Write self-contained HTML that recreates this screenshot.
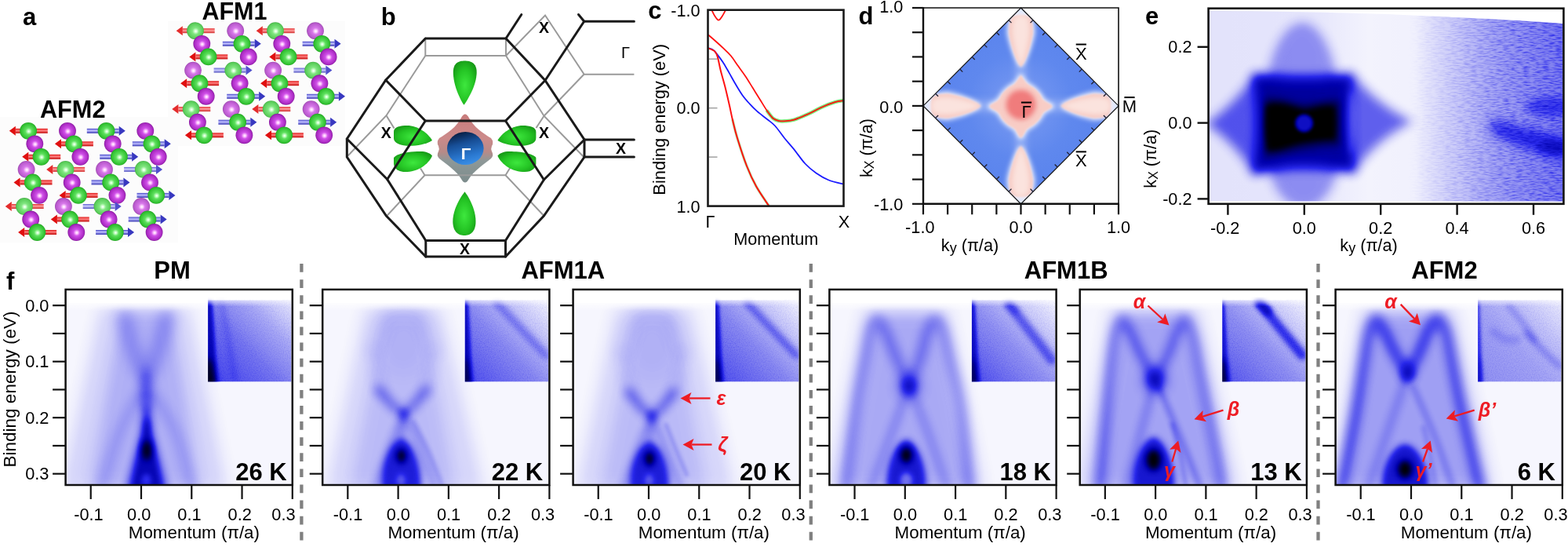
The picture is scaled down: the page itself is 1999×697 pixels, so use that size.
<!DOCTYPE html>
<html><head><meta charset="utf-8"><style>
html,body{margin:0;padding:0;background:#fff;}
body{width:1999px;height:697px;overflow:hidden;}
svg{display:block;font-family:"Liberation Sans", Arial, sans-serif;}
</style></head><body>
<svg width="1999" height="697" viewBox="0 0 1999 697">
<defs>
<radialGradient id="gG" cx="0.5" cy="0.5" r="0.55" fx="0.53" fy="0.53">
<stop offset="0" stop-color="#ffffff"/><stop offset="0.12" stop-color="#c8ffc8"/><stop offset="0.35" stop-color="#5ee05e"/><stop offset="0.8" stop-color="#2fc02f"/><stop offset="1" stop-color="#1c8c1c"/></radialGradient>
<radialGradient id="gGl" cx="0.5" cy="0.5" r="0.55" fx="0.53" fy="0.53">
<stop offset="0" stop-color="#ffffff"/><stop offset="0.12" stop-color="#d8ffd8"/><stop offset="0.35" stop-color="#80e680"/><stop offset="0.8" stop-color="#58cc58"/><stop offset="1" stop-color="#3a9a3a"/></radialGradient>
<radialGradient id="gP" cx="0.5" cy="0.5" r="0.55" fx="0.53" fy="0.53">
<stop offset="0" stop-color="#ffffff"/><stop offset="0.12" stop-color="#ffc8ff"/><stop offset="0.35" stop-color="#d050e8"/><stop offset="0.8" stop-color="#a828c0"/><stop offset="1" stop-color="#6a0c80"/></radialGradient>
<radialGradient id="gPl" cx="0.5" cy="0.5" r="0.55" fx="0.53" fy="0.53">
<stop offset="0" stop-color="#ffffff"/><stop offset="0.12" stop-color="#ffd8ff"/><stop offset="0.35" stop-color="#d878ea"/><stop offset="0.8" stop-color="#b858cc"/><stop offset="1" stop-color="#884098"/></radialGradient>
<linearGradient id="shR" x1="0" y1="0" x2="0" y2="1"><stop offset="0" stop-color="#e01818"/><stop offset="0.45" stop-color="#ff8080"/><stop offset="1" stop-color="#c00000"/></linearGradient>
<linearGradient id="shRl" x1="0" y1="0" x2="0" y2="1"><stop offset="0" stop-color="#e43030"/><stop offset="0.45" stop-color="#ffa0a0"/><stop offset="1" stop-color="#d02828"/></linearGradient>
<linearGradient id="shB" x1="0" y1="0" x2="0" y2="1"><stop offset="0" stop-color="#4848c8"/><stop offset="0.45" stop-color="#c0c0ff"/><stop offset="1" stop-color="#3030b0"/></linearGradient>
<linearGradient id="shBl" x1="0" y1="0" x2="0" y2="1"><stop offset="0" stop-color="#6060d0"/><stop offset="0.45" stop-color="#d0d0ff"/><stop offset="1" stop-color="#5050c0"/></linearGradient>
<radialGradient id="gBlob" cx="0.5" cy="0.55" r="0.65"><stop offset="0" stop-color="#3ee83e"/><stop offset="0.55" stop-color="#24c424"/><stop offset="1" stop-color="#149014"/></radialGradient>
<linearGradient id="pinkStar" x1="0" y1="0" x2="0" y2="1"><stop offset="0" stop-color="#c87c7c"/><stop offset="0.35" stop-color="#cc8a8a"/><stop offset="0.55" stop-color="#b88a88"/><stop offset="0.68" stop-color="#8e9898"/><stop offset="1" stop-color="#7c8c8c"/></linearGradient>
<linearGradient id="blueSph" x1="0.3" y1="0" x2="0.6" y2="1"><stop offset="0" stop-color="#061a3c"/><stop offset="0.35" stop-color="#174e96"/><stop offset="0.75" stop-color="#2a78d0"/><stop offset="1" stop-color="#3b8fe6"/></linearGradient>
<clipPath id="clipC"><rect x="902.5" y="12.7" width="173.0" height="249.90000000000003"/></clipPath>
<clipPath id="clipD"><polygon points="1301.5,10.0 1426.0,134.9 1301.5,259.8 1177.0,134.9"/></clipPath>
<filter id="blD1" x="-20%" y="-20%" width="140%" height="140%"><feGaussianBlur stdDeviation="1.2"/></filter>
<filter id="blD3" x="-50%" y="-50%" width="200%" height="200%"><feGaussianBlur stdDeviation="3"/></filter>
<filter id="blD6" x="-50%" y="-50%" width="200%" height="200%"><feGaussianBlur stdDeviation="6"/></filter>
<filter id="blD10" x="-50%" y="-50%" width="200%" height="200%"><feGaussianBlur stdDeviation="10"/></filter>
<radialGradient id="dBlue" cx="0.5" cy="0.5" r="0.6"><stop offset="0" stop-color="#7c9cf2"/><stop offset="0.45" stop-color="#5f88ee"/><stop offset="1" stop-color="#557fec"/></radialGradient>
<clipPath id="clipE"><path d="M1541.8999999999999,14 C1650,14.5 1740,16.5 1800,19.5 C1880,23 1950,26.5 1992.2,30 L1992.2,256.4 L1541.8999999999999,256.4 Z"/></clipPath>
<filter id="eb" filterUnits="userSpaceOnUse" x="1500" y="0" width="499" height="300"><feGaussianBlur stdDeviation="1"/></filter>
<filter id="eb2" filterUnits="userSpaceOnUse" x="1500" y="0" width="499" height="300"><feGaussianBlur stdDeviation="1.0"/></filter>
<filter id="eb3" filterUnits="userSpaceOnUse" x="1500" y="0" width="499" height="300"><feGaussianBlur stdDeviation="1.5"/></filter>
<filter id="eb4" filterUnits="userSpaceOnUse" x="1500" y="0" width="499" height="300"><feGaussianBlur stdDeviation="2.0"/></filter>
<filter id="eb6" filterUnits="userSpaceOnUse" x="1500" y="0" width="499" height="300"><feGaussianBlur stdDeviation="3.0"/></filter>
<filter id="eb8" filterUnits="userSpaceOnUse" x="1500" y="0" width="499" height="300"><feGaussianBlur stdDeviation="4.0"/></filter>
<filter id="eb10" filterUnits="userSpaceOnUse" x="1500" y="0" width="499" height="300"><feGaussianBlur stdDeviation="5.0"/></filter>
<filter id="eb14" filterUnits="userSpaceOnUse" x="1500" y="0" width="499" height="300"><feGaussianBlur stdDeviation="7.0"/></filter>
<filter id="eb20" filterUnits="userSpaceOnUse" x="1500" y="0" width="499" height="300"><feGaussianBlur stdDeviation="10.0"/></filter>
<filter id="eb30" filterUnits="userSpaceOnUse" x="1500" y="0" width="499" height="300"><feGaussianBlur stdDeviation="15.0"/></filter>
<filter id="noiseE" filterUnits="userSpaceOnUse" x="1540" y="10" width="455" height="250" color-interpolation-filters="sRGB">
<feTurbulence type="fractalNoise" baseFrequency="0.12 0.6" numOctaves="2" seed="5" result="t"/>
<feColorMatrix in="t" type="matrix" values="0 0 0 0 0  0 0 0 0 0  0 0 0 0 0  0 0 0 1.6 -0.62"/>
</filter>
<linearGradient id="eInk" gradientUnits="userSpaceOnUse" x1="1540" y1="0" x2="1994" y2="0"><stop offset="0" stop-color="#000" stop-opacity="0.1"/><stop offset="0.3" stop-color="#000" stop-opacity="0.09"/><stop offset="0.45" stop-color="#000" stop-opacity="0.04"/><stop offset="0.58" stop-color="#000" stop-opacity="0.05"/><stop offset="0.68" stop-color="#000" stop-opacity="0.17"/><stop offset="0.8" stop-color="#000" stop-opacity="0.29"/><stop offset="0.9" stop-color="#000" stop-opacity="0.36"/><stop offset="1" stop-color="#000" stop-opacity="0.42"/></linearGradient>
<linearGradient id="eNoiseMask" gradientUnits="userSpaceOnUse" x1="1540" y1="0" x2="1994" y2="0"><stop offset="0" stop-color="#000"/><stop offset="0.56" stop-color="#000"/><stop offset="0.85" stop-color="#fff"/><stop offset="1" stop-color="#fff"/></linearGradient>
<mask id="eMask" maskUnits="userSpaceOnUse" x="1540" y="10" width="455" height="250"><rect x="1540" y="10" width="455" height="250" fill="url(#eNoiseMask)"/></mask>
<filter id="fb2" filterUnits="userSpaceOnUse" x="0" y="330" width="1999" height="330"><feGaussianBlur stdDeviation="1.0"/></filter>
<filter id="fb3" filterUnits="userSpaceOnUse" x="0" y="330" width="1999" height="330"><feGaussianBlur stdDeviation="1.5"/></filter>
<filter id="fb4" filterUnits="userSpaceOnUse" x="0" y="330" width="1999" height="330"><feGaussianBlur stdDeviation="2.0"/></filter>
<filter id="fb5" filterUnits="userSpaceOnUse" x="0" y="330" width="1999" height="330"><feGaussianBlur stdDeviation="2.5"/></filter>
<filter id="fb6" filterUnits="userSpaceOnUse" x="0" y="330" width="1999" height="330"><feGaussianBlur stdDeviation="3.0"/></filter>
<filter id="fb8" filterUnits="userSpaceOnUse" x="0" y="330" width="1999" height="330"><feGaussianBlur stdDeviation="4.0"/></filter>
<filter id="fb10" filterUnits="userSpaceOnUse" x="0" y="330" width="1999" height="330"><feGaussianBlur stdDeviation="5.0"/></filter>
<filter id="fb12" filterUnits="userSpaceOnUse" x="0" y="330" width="1999" height="330"><feGaussianBlur stdDeviation="6.0"/></filter>
<filter id="fb16" filterUnits="userSpaceOnUse" x="0" y="330" width="1999" height="330"><feGaussianBlur stdDeviation="8.0"/></filter>
<filter id="fb20" filterUnits="userSpaceOnUse" x="0" y="330" width="1999" height="330"><feGaussianBlur stdDeviation="10.0"/></filter>
<filter id="fb24" filterUnits="userSpaceOnUse" x="0" y="330" width="1999" height="330"><feGaussianBlur stdDeviation="12.0"/></filter>
<filter id="cmap" color-interpolation-filters="sRGB">
<feComponentTransfer>
<feFuncR type="table" tableValues="0 0 0.16 0.51 0.78 1"/>
<feFuncG type="table" tableValues="0 0 0.16 0.51 0.78 1"/>
<feFuncB type="table" tableValues="0 0.67 0.92 0.94 0.975 1"/>
</feComponentTransfer></filter>
<filter id="noiseInk" x="0" y="0" width="100%" height="100%" color-interpolation-filters="sRGB">
<feTurbulence type="fractalNoise" baseFrequency="0.8" numOctaves="1" seed="11" result="t"/>
<feColorMatrix in="t" type="matrix" values="0 0 0 0 0  0 0 0 0 0  0 0 0 0 0  0 0 0 1.3 -0.55"/>
</filter>
<linearGradient id="fTopFade" x1="0" y1="0" x2="0" y2="1"><stop offset="0" stop-color="#fff" stop-opacity="1"/><stop offset="1" stop-color="#fff" stop-opacity="0"/></linearGradient>
<clipPath id="dc83"><rect x="83.6" y="368.9" width="289.2" height="249.1"/></clipPath>
<clipPath id="ic83"><rect x="265.1" y="378.5" width="106.5" height="108.1"/></clipPath>
<linearGradient id="ig83" gradientUnits="userSpaceOnUse" x1="265.1" y1="486.6" x2="371.6" y2="382.5"><stop offset="0" stop-color="#000" stop-opacity="0.55"/><stop offset="0.45" stop-color="#000" stop-opacity="0.42"/><stop offset="0.72" stop-color="#000" stop-opacity="0.285"/><stop offset="1" stop-color="#000" stop-opacity="0.075"/></linearGradient>
<clipPath id="dc411"><rect x="411.2" y="368.9" width="289.2" height="249.1"/></clipPath>
<clipPath id="ic411"><rect x="592.7" y="378.5" width="106.5" height="108.1"/></clipPath>
<linearGradient id="ig411" gradientUnits="userSpaceOnUse" x1="592.7" y1="486.6" x2="699.2" y2="382.5"><stop offset="0" stop-color="#000" stop-opacity="0.52"/><stop offset="0.45" stop-color="#000" stop-opacity="0.38"/><stop offset="0.72" stop-color="#000" stop-opacity="0.22"/><stop offset="1" stop-color="#000" stop-opacity="0.03"/></linearGradient>
<clipPath id="dc730"><rect x="730.6" y="368.9" width="289.2" height="249.1"/></clipPath>
<clipPath id="ic730"><rect x="912.1" y="378.5" width="106.5" height="108.1"/></clipPath>
<linearGradient id="ig730" gradientUnits="userSpaceOnUse" x1="912.1" y1="486.6" x2="1018.6" y2="382.5"><stop offset="0" stop-color="#000" stop-opacity="0.52"/><stop offset="0.45" stop-color="#000" stop-opacity="0.38"/><stop offset="0.72" stop-color="#000" stop-opacity="0.22"/><stop offset="1" stop-color="#000" stop-opacity="0.03"/></linearGradient>
<clipPath id="dc1057"><rect x="1057.4" y="368.9" width="289.2" height="249.1"/></clipPath>
<clipPath id="ic1057"><rect x="1238.9" y="378.5" width="106.5" height="108.1"/></clipPath>
<linearGradient id="ig1057" gradientUnits="userSpaceOnUse" x1="1238.9" y1="486.6" x2="1345.4" y2="382.5"><stop offset="0" stop-color="#000" stop-opacity="0.52"/><stop offset="0.45" stop-color="#000" stop-opacity="0.36"/><stop offset="0.72" stop-color="#000" stop-opacity="0.21"/><stop offset="1" stop-color="#000" stop-opacity="0.03"/></linearGradient>
<clipPath id="dc1376"><rect x="1376.7" y="368.9" width="289.2" height="249.1"/></clipPath>
<clipPath id="ic1376"><rect x="1558.2" y="378.5" width="106.5" height="108.1"/></clipPath>
<linearGradient id="ig1376" gradientUnits="userSpaceOnUse" x1="1558.2" y1="486.6" x2="1664.7" y2="382.5"><stop offset="0" stop-color="#000" stop-opacity="0.5"/><stop offset="0.45" stop-color="#000" stop-opacity="0.36"/><stop offset="0.72" stop-color="#000" stop-opacity="0.21"/><stop offset="1" stop-color="#000" stop-opacity="0.03"/></linearGradient>
<clipPath id="dc1702"><rect x="1702.6" y="368.9" width="289.2" height="249.1"/></clipPath>
<clipPath id="ic1702"><rect x="1884.1" y="378.5" width="106.5" height="108.1"/></clipPath>
<linearGradient id="ig1702" gradientUnits="userSpaceOnUse" x1="1884.1" y1="486.6" x2="1990.6" y2="382.5"><stop offset="0" stop-color="#000" stop-opacity="0.36"/><stop offset="0.45" stop-color="#000" stop-opacity="0.3"/><stop offset="0.72" stop-color="#000" stop-opacity="0.21"/><stop offset="1" stop-color="#000" stop-opacity="0.06"/></linearGradient>
</defs>
<rect x="214" y="26.7" width="226" height="159.5" fill="#fcfcfc"/>
<rect x="0" y="149" width="227" height="160" fill="#fcfcfc"/>
<rect x="232.8" y="36.2" width="40.9" height="6" fill="url(#shRl)"/>
<polygon points="224.7,39.2 232.8,33.2 232.8,45.2" fill="#e42c2c"/>
<circle cx="249" cy="39.2" r="10.9" fill="url(#gGl)"/>
<circle cx="257.3" cy="55.8" r="10.9" fill="url(#gP)"/>
<rect x="249.4" y="69.4" width="40.9" height="6" fill="url(#shR)"/>
<polygon points="241.3,72.4 249.4,66.4 249.4,78.4" fill="#e01010"/>
<circle cx="265.6" cy="72.4" r="10.9" fill="url(#gG)"/>
<circle cx="246.1" cy="89.6" r="10.9" fill="url(#gPl)"/>
<rect x="238.2" y="103.2" width="40.9" height="6" fill="url(#shR)"/>
<polygon points="230.1,106.2 238.2,100.2 238.2,112.2" fill="#e01010"/>
<circle cx="254.4" cy="106.2" r="10.9" fill="url(#gG)"/>
<circle cx="262.7" cy="122.8" r="10.9" fill="url(#gP)"/>
<rect x="227.4" y="136.1" width="40.9" height="6" fill="url(#shRl)"/>
<polygon points="219.3,139.1 227.4,133.1 227.4,145.1" fill="#e42c2c"/>
<circle cx="243.6" cy="139.1" r="10.9" fill="url(#gGl)"/>
<circle cx="251.9" cy="155.7" r="10.9" fill="url(#gP)"/>
<rect x="244" y="169.3" width="40.9" height="6" fill="url(#shR)"/>
<polygon points="235.9,172.3 244,166.3 244,178.3" fill="#e01010"/>
<circle cx="260.2" cy="172.3" r="10.9" fill="url(#gG)"/>
<circle cx="300.2" cy="39.2" r="10.9" fill="url(#gPl)"/>
<rect x="283.8" y="52.8" width="40.9" height="6" fill="url(#shB)"/>
<polygon points="332.8,55.8 324.7,49.8 324.7,61.8" fill="#3838c0"/>
<circle cx="308.5" cy="55.8" r="10.9" fill="url(#gG)"/>
<circle cx="316.8" cy="72.4" r="10.9" fill="url(#gP)"/>
<rect x="272.6" y="86.6" width="40.9" height="6" fill="url(#shBl)"/>
<polygon points="321.6,89.6 313.5,83.6 313.5,95.6" fill="#5050cc"/>
<circle cx="297.3" cy="89.6" r="10.9" fill="url(#gGl)"/>
<circle cx="305.6" cy="106.2" r="10.9" fill="url(#gP)"/>
<rect x="289.2" y="119.8" width="40.9" height="6" fill="url(#shB)"/>
<polygon points="338.2,122.8 330.1,116.8 330.1,128.8" fill="#3838c0"/>
<circle cx="313.9" cy="122.8" r="10.9" fill="url(#gG)"/>
<circle cx="294.8" cy="139.1" r="10.9" fill="url(#gPl)"/>
<rect x="278.4" y="152.7" width="40.9" height="6" fill="url(#shB)"/>
<polygon points="327.4,155.7 319.3,149.7 319.3,161.7" fill="#3838c0"/>
<circle cx="303.1" cy="155.7" r="10.9" fill="url(#gG)"/>
<circle cx="311.4" cy="172.3" r="10.9" fill="url(#gP)"/>
<rect x="334.8" y="36.2" width="40.9" height="6" fill="url(#shRl)"/>
<polygon points="326.7,39.2 334.8,33.2 334.8,45.2" fill="#e42c2c"/>
<circle cx="351" cy="39.2" r="10.9" fill="url(#gGl)"/>
<circle cx="359.3" cy="55.8" r="10.9" fill="url(#gP)"/>
<rect x="351.4" y="69.4" width="40.9" height="6" fill="url(#shR)"/>
<polygon points="343.3,72.4 351.4,66.4 351.4,78.4" fill="#e01010"/>
<circle cx="367.6" cy="72.4" r="10.9" fill="url(#gG)"/>
<circle cx="348.1" cy="89.6" r="10.9" fill="url(#gPl)"/>
<rect x="340.2" y="103.2" width="40.9" height="6" fill="url(#shR)"/>
<polygon points="332.1,106.2 340.2,100.2 340.2,112.2" fill="#e01010"/>
<circle cx="356.4" cy="106.2" r="10.9" fill="url(#gG)"/>
<circle cx="364.7" cy="122.8" r="10.9" fill="url(#gP)"/>
<rect x="329.4" y="136.1" width="40.9" height="6" fill="url(#shRl)"/>
<polygon points="321.3,139.1 329.4,133.1 329.4,145.1" fill="#e42c2c"/>
<circle cx="345.6" cy="139.1" r="10.9" fill="url(#gGl)"/>
<circle cx="353.9" cy="155.7" r="10.9" fill="url(#gP)"/>
<rect x="346" y="169.3" width="40.9" height="6" fill="url(#shR)"/>
<polygon points="337.9,172.3 346,166.3 346,178.3" fill="#e01010"/>
<circle cx="362.2" cy="172.3" r="10.9" fill="url(#gG)"/>
<circle cx="402" cy="39.2" r="10.9" fill="url(#gPl)"/>
<rect x="385.6" y="52.8" width="40.9" height="6" fill="url(#shB)"/>
<polygon points="434.6,55.8 426.5,49.8 426.5,61.8" fill="#3838c0"/>
<circle cx="410.3" cy="55.8" r="10.9" fill="url(#gG)"/>
<circle cx="418.6" cy="72.4" r="10.9" fill="url(#gP)"/>
<rect x="374.4" y="86.6" width="40.9" height="6" fill="url(#shBl)"/>
<polygon points="423.4,89.6 415.3,83.6 415.3,95.6" fill="#5050cc"/>
<circle cx="399.1" cy="89.6" r="10.9" fill="url(#gGl)"/>
<circle cx="407.4" cy="106.2" r="10.9" fill="url(#gP)"/>
<rect x="391" y="119.8" width="40.9" height="6" fill="url(#shB)"/>
<polygon points="440,122.8 431.9,116.8 431.9,128.8" fill="#3838c0"/>
<circle cx="415.7" cy="122.8" r="10.9" fill="url(#gG)"/>
<circle cx="396.6" cy="139.1" r="10.9" fill="url(#gPl)"/>
<rect x="380.2" y="152.7" width="40.9" height="6" fill="url(#shB)"/>
<polygon points="429.2,155.7 421.1,149.7 421.1,161.7" fill="#3838c0"/>
<circle cx="404.9" cy="155.7" r="10.9" fill="url(#gG)"/>
<circle cx="413.2" cy="172.3" r="10.9" fill="url(#gP)"/>
<rect x="19.9" y="163.8" width="40.9" height="6" fill="url(#shR)"/>
<polygon points="11.8,166.8 19.9,160.8 19.9,172.8" fill="#e01010"/>
<circle cx="36.1" cy="166.8" r="10.9" fill="url(#gG)"/>
<circle cx="44.3" cy="183.3" r="10.9" fill="url(#gP)"/>
<rect x="36.3" y="196.8" width="40.9" height="6" fill="url(#shR)"/>
<polygon points="28.2,199.8 36.3,193.8 36.3,205.8" fill="#e01010"/>
<circle cx="52.5" cy="199.8" r="10.9" fill="url(#gG)"/>
<circle cx="33.6" cy="215.9" r="10.9" fill="url(#gPl)"/>
<rect x="25.6" y="229.4" width="40.9" height="6" fill="url(#shR)"/>
<polygon points="17.5,232.4 25.6,226.4 25.6,238.4" fill="#e01010"/>
<circle cx="41.8" cy="232.4" r="10.9" fill="url(#gG)"/>
<circle cx="50" cy="248.9" r="10.9" fill="url(#gP)"/>
<rect x="14.8" y="260" width="40.9" height="6" fill="url(#shRl)"/>
<polygon points="6.7,263 14.8,257 14.8,269" fill="#e42c2c"/>
<circle cx="31" cy="263" r="10.9" fill="url(#gGl)"/>
<circle cx="39.2" cy="279.5" r="10.9" fill="url(#gP)"/>
<rect x="31.2" y="293" width="40.9" height="6" fill="url(#shR)"/>
<polygon points="23.1,296 31.2,290 31.2,302" fill="#e01010"/>
<circle cx="47.4" cy="296" r="10.9" fill="url(#gG)"/>
<circle cx="86" cy="166.8" r="10.9" fill="url(#gP)"/>
<rect x="78" y="180.3" width="40.9" height="6" fill="url(#shR)"/>
<polygon points="69.9,183.3 78,177.3 78,189.3" fill="#e01010"/>
<circle cx="94.2" cy="183.3" r="10.9" fill="url(#gG)"/>
<circle cx="102.4" cy="199.8" r="10.9" fill="url(#gP)"/>
<rect x="67.3" y="212.9" width="40.9" height="6" fill="url(#shRl)"/>
<polygon points="59.2,215.9 67.3,209.9 67.3,221.9" fill="#e42c2c"/>
<circle cx="83.5" cy="215.9" r="10.9" fill="url(#gGl)"/>
<circle cx="91.7" cy="232.4" r="10.9" fill="url(#gP)"/>
<rect x="83.7" y="245.9" width="40.9" height="6" fill="url(#shR)"/>
<polygon points="75.6,248.9 83.7,242.9 83.7,254.9" fill="#e01010"/>
<circle cx="99.9" cy="248.9" r="10.9" fill="url(#gG)"/>
<circle cx="80.9" cy="263" r="10.9" fill="url(#gPl)"/>
<rect x="72.9" y="276.5" width="40.9" height="6" fill="url(#shR)"/>
<polygon points="64.8,279.5 72.9,273.5 72.9,285.5" fill="#e01010"/>
<circle cx="89.1" cy="279.5" r="10.9" fill="url(#gG)"/>
<circle cx="97.3" cy="296" r="10.9" fill="url(#gP)"/>
<rect x="110.8" y="163.8" width="40.9" height="6" fill="url(#shB)"/>
<polygon points="159.8,166.8 151.7,160.8 151.7,172.8" fill="#3838c0"/>
<circle cx="135.5" cy="166.8" r="10.9" fill="url(#gG)"/>
<circle cx="143.7" cy="183.3" r="10.9" fill="url(#gP)"/>
<rect x="127.2" y="196.8" width="40.9" height="6" fill="url(#shB)"/>
<polygon points="176.2,199.8 168.1,193.8 168.1,205.8" fill="#3838c0"/>
<circle cx="151.9" cy="199.8" r="10.9" fill="url(#gG)"/>
<circle cx="133" cy="215.9" r="10.9" fill="url(#gPl)"/>
<rect x="116.5" y="229.4" width="40.9" height="6" fill="url(#shB)"/>
<polygon points="165.5,232.4 157.4,226.4 157.4,238.4" fill="#3838c0"/>
<circle cx="141.2" cy="232.4" r="10.9" fill="url(#gG)"/>
<circle cx="149.4" cy="248.9" r="10.9" fill="url(#gP)"/>
<rect x="105.7" y="260" width="40.9" height="6" fill="url(#shBl)"/>
<polygon points="154.7,263 146.6,257 146.6,269" fill="#5050cc"/>
<circle cx="130.4" cy="263" r="10.9" fill="url(#gGl)"/>
<circle cx="138.6" cy="279.5" r="10.9" fill="url(#gP)"/>
<rect x="122.1" y="293" width="40.9" height="6" fill="url(#shB)"/>
<polygon points="171.1,296 163,290 163,302" fill="#3838c0"/>
<circle cx="146.8" cy="296" r="10.9" fill="url(#gG)"/>
<circle cx="185.3" cy="166.8" r="10.9" fill="url(#gP)"/>
<rect x="168.8" y="180.3" width="40.9" height="6" fill="url(#shB)"/>
<polygon points="217.8,183.3 209.7,177.3 209.7,189.3" fill="#3838c0"/>
<circle cx="193.5" cy="183.3" r="10.9" fill="url(#gG)"/>
<circle cx="201.7" cy="199.8" r="10.9" fill="url(#gP)"/>
<rect x="158.1" y="212.9" width="40.9" height="6" fill="url(#shBl)"/>
<polygon points="207.1,215.9 199,209.9 199,221.9" fill="#5050cc"/>
<circle cx="182.8" cy="215.9" r="10.9" fill="url(#gGl)"/>
<circle cx="191" cy="232.4" r="10.9" fill="url(#gP)"/>
<rect x="174.5" y="245.9" width="40.9" height="6" fill="url(#shB)"/>
<polygon points="223.5,248.9 215.4,242.9 215.4,254.9" fill="#3838c0"/>
<circle cx="199.2" cy="248.9" r="10.9" fill="url(#gG)"/>
<circle cx="180.2" cy="263" r="10.9" fill="url(#gPl)"/>
<rect x="163.7" y="276.5" width="40.9" height="6" fill="url(#shB)"/>
<polygon points="212.7,279.5 204.6,273.5 204.6,285.5" fill="#3838c0"/>
<circle cx="188.4" cy="279.5" r="10.9" fill="url(#gG)"/>
<circle cx="196.6" cy="296" r="10.9" fill="url(#gP)"/>
<text x="37.5" y="31.6" font-size="31" font-weight="bold" text-anchor="middle" fill="#000" >a</text>
<text x="298.9" y="24.8" font-size="30.5" font-weight="bold" text-anchor="middle" fill="#000" >AFM1</text>
<text x="92.7" y="150.1" font-size="30.7" font-weight="bold" text-anchor="middle" fill="#000" >AFM2</text>
<path d="M588,150 Q592.9,141 597.8,150 C604,162 616,170 626,176 Q630,181 627,186 Q625.5,189.5 627,193 Q630,198 626,202 C616,210 604,218 597.8,228 Q592.9,237 588,228 C582,218 570,210 560,202 Q556,198 559,193 Q560.5,189.5 559,186 Q556,181 560,176 C570,170 582,162 588,150 Z" fill="url(#pinkStar)"/>
<polyline points="542.3,49 542.3,71 645,71 645,49" stroke="#9a9a9a" stroke-width="2.0" fill="none" stroke-linejoin="miter" />
<polyline points="542.3,71 492.5,147.2 443.5,198.5" stroke="#9a9a9a" stroke-width="2.0" fill="none" stroke-linejoin="miter" />
<polyline points="492.5,147.2 502.5,163.5" stroke="#9a9a9a" stroke-width="2.0" fill="none" stroke-linejoin="miter" />
<polyline points="645,71 693.5,147.7 744.7,200.5" stroke="#9a9a9a" stroke-width="2.0" fill="none" stroke-linejoin="miter" />
<polyline points="744.7,94.5 693.5,147.7" stroke="#9a9a9a" stroke-width="2.0" fill="none" stroke-linejoin="miter" />
<polyline points="693.5,147.7 683.5,163" stroke="#9a9a9a" stroke-width="2.0" fill="none" stroke-linejoin="miter" />
<polyline points="645,71 695,19.5 744.7,94.8 808.4,94.8" stroke="#9a9a9a" stroke-width="2.0" fill="none" stroke-linejoin="miter" />
<polyline points="493.7,274.5 541.5,223.2 644.5,223.2 693.4,275" stroke="#9a9a9a" stroke-width="2.0" fill="none" stroke-linejoin="miter" />
<polyline points="541.5,223.2 536,214.5" stroke="#9a9a9a" stroke-width="2.0" fill="none" stroke-linejoin="miter" />
<polyline points="644.5,223.2 650.5,213.5" stroke="#9a9a9a" stroke-width="2.0" fill="none" stroke-linejoin="miter" />
<path d="M502,168 C502,162 510,160 519,160 C533,160 546,170 551,179 C543,184 532,185.8 522,185.8 C512,185.8 502,183 502,176 Z" fill="url(#gBlob)"/>
<path d="M502,201 C505,196 520,193 536,193 C543,193 548,195 551,198.4 C546,210 532,219 516.5,219 C507,219 502,214 502,208 Z" fill="url(#gBlob)"/>
<path d="M683.4,168 C683.4,162 675.4,160 666.4,160 C652.4,160 639.4,170 634.4,179 C642.4,184 653.4,185.8 663.4,185.8 C673.4,185.8 683.4,183 683.4,176 Z" fill="url(#gBlob)"/>
<path d="M683.4,201 C680.4,196 665.4,193 649.4,193 C642.4,193 637.4,195 634.4,198.4 C639.4,210 653.4,219 668.9,219 C678.4,219 683.4,214 683.4,208 Z" fill="url(#gBlob)"/>
<path d="M577.8,92 C577.8,80 585,77.5 592.5,77.5 C600,77.5 607.7,80 607.7,92 C607.7,108 597,126 591.5,133.8 C586,126 577.8,108 577.8,92 Z" fill="url(#gBlob)"/>
<path d="M577.3,282 C577.3,296 585,300 592,300 C599,300 606.5,296 606.5,282 C606.5,266 597,250 592.5,244.2 C588,250 577.3,266 577.3,282 Z" fill="url(#gBlob)"/>
<ellipse cx="593.3" cy="189" rx="23.3" ry="21" fill="url(#blueSph)"/>
<g stroke-linecap="round" stroke-linejoin="round">
<polyline points="542.3,49 645,49 695,102.5 745,178 745,200 693.4,275 644.5,327 542.8,327 492.4,275 442.3,200 442.3,177 491.8,102 542.3,49" stroke="#1a1a1a" stroke-width="3.0" fill="none" stroke-linejoin="miter" />
<polyline points="491.8,102 542.3,154 644.5,154 695,102.5" stroke="#1a1a1a" stroke-width="3.0" fill="none" stroke-linejoin="miter" />
<polyline points="442.3,177 493.7,228.5 542.3,154" stroke="#1a1a1a" stroke-width="3.0" fill="none" stroke-linejoin="miter" />
<polyline points="745,178 693.4,229 644.5,154" stroke="#1a1a1a" stroke-width="3.0" fill="none" stroke-linejoin="miter" />
<polyline points="493.7,228.5 542.8,306.5 644.5,306.5 693.4,229" stroke="#1a1a1a" stroke-width="3.0" fill="none" stroke-linejoin="miter" />
<polyline points="542.8,306.5 542.8,327" stroke="#1a1a1a" stroke-width="3.0" fill="none" stroke-linejoin="miter" />
<polyline points="644.5,306.5 644.5,327" stroke="#1a1a1a" stroke-width="3.0" fill="none" stroke-linejoin="miter" />
<polyline points="645,49 664.8,18.5" stroke="#1a1a1a" stroke-width="3.0" fill="none" stroke-linejoin="miter" />
<polyline points="695,102.5 744.7,27.2 808.4,27.2" stroke="#1a1a1a" stroke-width="3.0" fill="none" stroke-linejoin="miter" />
<polyline points="744.7,27.2 737.5,18.5" stroke="#1a1a1a" stroke-width="3.0" fill="none" stroke-linejoin="miter" />
<polyline points="745,178 808.4,178" stroke="#1a1a1a" stroke-width="3.0" fill="none" stroke-linejoin="miter" />
<polyline points="745,200 808.4,200" stroke="#1a1a1a" stroke-width="3.0" fill="none" stroke-linejoin="miter" />
</g>
<text x="594" y="203" font-size="21" font-weight="bold" text-anchor="middle" fill="#fff" >Γ</text>
<text x="495.2" y="31.7" font-size="31" font-weight="bold" text-anchor="middle" fill="#000" >b</text>
<text x="693.5" y="41.5" font-size="19.5" font-weight="bold" text-anchor="middle" fill="#000" >X</text>
<text x="492.2" y="175.8" font-size="19.5" font-weight="bold" text-anchor="middle" fill="#000" >X</text>
<text x="693.5" y="175.5" font-size="19.5" font-weight="bold" text-anchor="middle" fill="#000" >X</text>
<text x="592.5" y="323.5" font-size="19.5" font-weight="bold" text-anchor="middle" fill="#000" >X</text>
<text x="791.4" y="196" font-size="19.5" font-weight="bold" text-anchor="middle" fill="#000" >X</text>
<text x="797.5" y="73.8" font-size="20" font-weight="normal" text-anchor="middle" fill="#000" >Γ</text>
<line x1="903.5" y1="75.18" x2="914.5" y2="75.18" stroke="#a0a0a0" stroke-width="1.5" />
<line x1="903.5" y1="137.65" x2="914.5" y2="137.65" stroke="#a0a0a0" stroke-width="1.5" />
<line x1="903.5" y1="200.12" x2="914.5" y2="200.12" stroke="#a0a0a0" stroke-width="1.5" />
<g clip-path="url(#clipC)" fill="none" stroke-linecap="round">
<path d="M978.4,141.9 C979.63,143.42 983.32,148.97 985.8,151 C988.28,153.03 990.88,153.55 993.3,154.1 C995.72,154.65 997.13,154.55 1000.3,154.3 C1003.47,154.05 1007.28,154.12 1012.3,152.6 C1017.32,151.08 1024.37,147.93 1030.4,145.2 C1036.43,142.47 1042.82,138.72 1048.5,136.2 C1054.18,133.68 1059.92,131.47 1064.5,130.1 C1069.08,128.73 1074.08,128.35 1076,128" stroke="#6ee86e" stroke-width="4.5" opacity="0.9"/>
<path d="M934,153 C935,156.83 937,166.25 940,176 C943,185.75 947.98,201.25 952,211.5 C956.02,221.75 959.27,228.83 964.1,237.5 C968.93,246.17 978.18,259.17 981,263.5" stroke="#6ee86e" stroke-width="3.2" opacity="0.6"/>
<path d="M903,61.2 C904.05,61.6 907.32,62.12 909.3,63.6 C911.28,65.08 912.72,67.3 914.9,70.1 C917.08,72.9 919.9,76.52 922.4,80.4 C924.9,84.28 927.42,89.05 929.9,93.4 C932.38,97.75 934.52,101.83 937.3,106.5 C940.08,111.17 943.48,117.05 946.6,121.4 C949.72,125.75 952.88,129.18 956,132.6 C959.12,136.02 961.57,138.63 965.3,141.9 C969.03,145.17 974.58,149.1 978.4,152.2 C982.22,155.3 984.55,156.48 988.2,160.5 C991.85,164.52 996.28,171.32 1000.3,176.3 C1004.32,181.28 1007.95,185.03 1012.3,190.4 C1016.65,195.77 1021.72,203.48 1026.4,208.5 C1031.08,213.52 1035.38,217 1040.4,220.5 C1045.42,224 1050.57,227.12 1056.5,229.5 C1062.43,231.88 1072.75,233.92 1076,234.8" stroke="#1a1aff" stroke-width="1.8"/>
<path d="M903,44.5 C904.37,45.67 907.97,48.63 911.2,51.5 C914.43,54.37 918.98,58.45 922.4,61.7 C925.82,64.95 928.6,67.27 931.7,71 C934.8,74.73 937.88,79.73 941,84.1 C944.12,88.47 947.28,92.53 950.4,97.2 C953.52,101.87 956.6,107.13 959.7,112.1 C962.8,117.07 965.88,122.03 969,127 C972.12,131.97 975.6,137.9 978.4,141.9 C981.2,145.9 983.32,148.97 985.8,151 C988.28,153.03 990.88,153.55 993.3,154.1 C995.72,154.65 997.13,154.55 1000.3,154.3 C1003.47,154.05 1007.28,154.12 1012.3,152.6 C1017.32,151.08 1024.37,147.93 1030.4,145.2 C1036.43,142.47 1042.82,138.72 1048.5,136.2 C1054.18,133.68 1059.92,131.47 1064.5,130.1 C1069.08,128.73 1074.08,128.35 1076,128" stroke="#ff1010" stroke-width="1.8"/>
<path d="M903,61.5 C904.37,62.15 909.22,63.5 911.2,65.4 C913.18,67.3 913.65,68.85 914.9,72.9 C916.15,76.95 917.13,83.48 918.7,89.7 C920.27,95.92 922.43,102.82 924.3,110.2 C926.17,117.58 928.28,126.87 929.9,134 C931.52,141.13 932.32,146 934,153 C935.68,160 937,166.25 940,176 C943,185.75 947.98,201.25 952,211.5 C956.02,221.75 959.27,228.83 964.1,237.5 C968.93,246.17 978.18,259.17 981,263.5" stroke="#ff1010" stroke-width="2"/>
<path d="M907,12 C907.67,13.33 909.5,17.72 911,20 C912.5,22.28 914.42,25.53 916,25.7 C917.58,25.87 919,23.12 920.5,21 C922,18.88 924.25,14.33 925,13" stroke="#ff1010" stroke-width="1.8"/>
</g>
<rect x="902.5" y="12.7" width="173" height="249.9" fill="none" stroke="#1a1a1a" stroke-width="2.6"/>
<text x="834.8" y="24.4" font-size="31" font-weight="bold" text-anchor="middle" fill="#000" >c</text>
<text x="892.6" y="21.1" font-size="21.7" font-weight="normal" text-anchor="end" fill="#000" >-1.0</text>
<text x="892.6" y="144.7" font-size="21.7" font-weight="normal" text-anchor="end" fill="#000" >0.0</text>
<text x="892.6" y="270.5" font-size="21.7" font-weight="normal" text-anchor="end" fill="#000" >1.0</text>
<text x="0" y="0" font-size="21.8" text-anchor="middle" transform="translate(848,152.3) rotate(-90)">Binding energy (eV)</text>
<text x="905.6" y="289.7" font-size="21.7" font-weight="normal" text-anchor="middle" fill="#000" >Γ</text>
<text x="1076.1" y="289.7" font-size="21.7" font-weight="normal" text-anchor="middle" fill="#000" >X</text>
<text x="989.2" y="312.1" font-size="21.6" font-weight="normal" text-anchor="middle" fill="#000" >Momentum</text>
<g clip-path="url(#clipD)">
<rect x="1177.0" y="10.0" width="249.0" height="249.8" fill="url(#dBlue)"/>
<g filter="url(#blD6)" opacity="0.55"><rect x="1296.5" y="10.0" width="10" height="249.8" fill="#c8d8ff"/><rect x="1177.0" y="129.9" width="249.0" height="10" fill="#c8d8ff"/></g>
<circle cx="1301.5" cy="16.0" r="13" fill="#dfe8ff" filter="url(#blD3)"/>
<circle cx="1301.5" cy="253.8" r="13" fill="#dfe8ff" filter="url(#blD3)"/>
<circle cx="1183.0" cy="134.9" r="13" fill="#dfe8ff" filter="url(#blD3)"/>
<circle cx="1420.0" cy="134.9" r="13" fill="#dfe8ff" filter="url(#blD3)"/>
<path d="M1301.5,19.5 C1315.5,19.5 1319,21.5 1319.35,42.6 C1314.62,65.7 1306.75,80.22 1301.5,85.5 C1296.25,80.22 1288.38,65.7 1283.65,42.6 C1284,21.5 1287.5,19.5 1301.5,19.5 Z" fill="#eef2ff" filter="url(#blD3)"/>
<path d="M1301.5,250.5 C1287.5,250.5 1284,248.5 1283.65,227.93 C1288.38,205.35 1296.25,191.16 1301.5,186 C1306.75,191.16 1314.62,205.35 1319.35,227.93 C1319,248.5 1315.5,250.5 1301.5,250.5 Z" fill="#eef2ff" filter="url(#blD3)"/>
<path d="M1187,134.9 C1187,120.74 1189,117.2 1209.3,116.85 C1231.59,121.62 1245.6,129.59 1250.7,134.9 C1245.6,140.21 1231.59,148.18 1209.3,152.95 C1189,152.6 1187,149.06 1187,134.9 Z" fill="#eef2ff" filter="url(#blD3)"/>
<path d="M1416,134.9 C1416,149.06 1414,152.6 1393.7,152.95 C1371.41,148.18 1357.4,140.21 1352.3,134.9 C1357.4,129.59 1371.41,121.62 1393.7,116.85 C1414,117.2 1416,120.74 1416,134.9 Z" fill="#eef2ff" filter="url(#blD3)"/>
<path d="M1301.5,19.5 C1313.5,19.5 1316.5,21.5 1316.8,42.6 C1312.75,65.7 1306,80.22 1301.5,85.5 C1297,80.22 1290.25,65.7 1286.2,42.6 C1286.5,21.5 1289.5,19.5 1301.5,19.5 Z" fill="#f6c9c2" filter="url(#blD1)"/>
<path d="M1301.5,19.5 C1310.14,19.5 1312.3,21.5 1312.52,42.6 C1309.6,65.7 1304.74,80.22 1301.5,85.5 C1298.26,80.22 1293.4,65.7 1290.48,42.6 C1290.7,21.5 1292.86,19.5 1301.5,19.5 Z" fill="#fbe3de" filter="url(#blD3)"/>
<path d="M1301.5,250.5 C1289.5,250.5 1286.5,248.5 1286.2,227.93 C1290.25,205.35 1297,191.16 1301.5,186 C1306,191.16 1312.75,205.35 1316.8,227.93 C1316.5,248.5 1313.5,250.5 1301.5,250.5 Z" fill="#f6c9c2" filter="url(#blD1)"/>
<path d="M1301.5,250.5 C1292.86,250.5 1290.7,248.5 1290.48,227.93 C1293.4,205.35 1298.26,191.16 1301.5,186 C1304.74,191.16 1309.6,205.35 1312.52,227.93 C1312.3,248.5 1310.14,250.5 1301.5,250.5 Z" fill="#fbe3de" filter="url(#blD3)"/>
<path d="M1187,134.9 C1187,122.74 1189,119.7 1209.3,119.4 C1231.59,123.5 1245.6,130.34 1250.7,134.9 C1245.6,139.46 1231.59,146.3 1209.3,150.4 C1189,150.1 1187,147.06 1187,134.9 Z" fill="#f6c9c2" filter="url(#blD1)"/>
<path d="M1187,134.9 C1187,126.14 1189,123.96 1209.3,123.74 C1231.59,126.69 1245.6,131.62 1250.7,134.9 C1245.6,138.18 1231.59,143.11 1209.3,146.06 C1189,145.84 1187,143.66 1187,134.9 Z" fill="#fbe3de" filter="url(#blD3)"/>
<path d="M1416,134.9 C1416,147.06 1414,150.1 1393.7,150.4 C1371.41,146.3 1357.4,139.46 1352.3,134.9 C1357.4,130.34 1371.41,123.5 1393.7,119.4 C1414,119.7 1416,122.74 1416,134.9 Z" fill="#f6c9c2" filter="url(#blD1)"/>
<path d="M1416,134.9 C1416,143.66 1414,145.84 1393.7,146.06 C1371.41,143.11 1357.4,138.18 1352.3,134.9 C1357.4,131.62 1371.41,126.69 1393.7,123.74 C1414,123.96 1416,126.14 1416,134.9 Z" fill="#fbe3de" filter="url(#blD3)"/>
<path d="M1301.5,92.9 C1302.92,94.85 1307.17,101.75 1310,104.59 C1312.83,107.42 1315.67,107.6 1318.5,109.9 C1321.33,112.2 1324.7,115.57 1327,118.4 C1329.3,121.23 1329.48,124.07 1332.31,126.9 C1335.15,129.73 1344,132.57 1344,135.4 C1344,138.23 1335.15,141.07 1332.31,143.9 C1329.48,146.73 1329.3,149.57 1327,152.4 C1324.7,155.23 1321.33,158.6 1318.5,160.9 C1315.67,163.2 1312.83,163.38 1310,166.21 C1307.17,169.05 1304.33,177.9 1301.5,177.9 C1298.67,177.9 1295.83,169.05 1293,166.21 C1290.17,163.38 1287.33,163.2 1284.5,160.9 C1281.67,158.6 1278.3,155.23 1276,152.4 C1273.7,149.57 1273.52,146.73 1270.69,143.9 C1267.85,141.07 1259,138.23 1259,135.4 C1259,132.57 1267.85,129.73 1270.69,126.9 C1273.52,124.07 1273.7,121.23 1276,118.4 C1278.3,115.57 1281.67,112.2 1284.5,109.9 C1287.33,107.6 1290.17,107.42 1293,104.59 C1295.83,101.75 1300.08,94.85 1301.5,92.9 Z" fill="#f4f7ff" filter="url(#blD3)"/>
<path d="M1301.5,95.4 C1302.83,97.23 1306.83,103.73 1309.5,106.4 C1312.17,109.07 1314.83,109.23 1317.5,111.4 C1320.17,113.57 1323.33,116.73 1325.5,119.4 C1327.67,122.07 1327.83,124.73 1330.5,127.4 C1333.17,130.07 1341.5,132.73 1341.5,135.4 C1341.5,138.07 1333.17,140.73 1330.5,143.4 C1327.83,146.07 1327.67,148.73 1325.5,151.4 C1323.33,154.07 1320.17,157.23 1317.5,159.4 C1314.83,161.57 1312.17,161.73 1309.5,164.4 C1306.83,167.07 1304.17,175.4 1301.5,175.4 C1298.83,175.4 1296.17,167.07 1293.5,164.4 C1290.83,161.73 1288.17,161.57 1285.5,159.4 C1282.83,157.23 1279.67,154.07 1277.5,151.4 C1275.33,148.73 1275.17,146.07 1272.5,143.4 C1269.83,140.73 1261.5,138.07 1261.5,135.4 C1261.5,132.73 1269.83,130.07 1272.5,127.4 C1275.17,124.73 1275.33,122.07 1277.5,119.4 C1279.67,116.73 1282.83,113.57 1285.5,111.4 C1288.17,109.23 1290.83,109.07 1293.5,106.4 C1296.17,103.73 1300.17,97.23 1301.5,95.4 Z" fill="#f8cdc6" filter="url(#blD1)"/>
<circle cx="1301.5" cy="133.4" r="19" fill="#f07c7c" filter="url(#blD3)"/>
</g>
<polygon points="1301.5,10.0 1426.0,134.9 1301.5,259.8 1177.0,134.9" fill="none" stroke="#111" stroke-width="1.2"/>
<line x1="1317.06" y1="25.61" x2="1313.52" y2="29.14" stroke="#223" stroke-width="1.3" />
<line x1="1332.62" y1="41.23" x2="1329.08" y2="44.75" stroke="#223" stroke-width="1.3" />
<line x1="1348.19" y1="56.84" x2="1344.65" y2="60.37" stroke="#223" stroke-width="1.3" />
<line x1="1363.75" y1="72.45" x2="1360.21" y2="75.98" stroke="#223" stroke-width="1.3" />
<line x1="1379.31" y1="88.06" x2="1375.77" y2="91.59" stroke="#223" stroke-width="1.3" />
<line x1="1394.88" y1="103.68" x2="1391.33" y2="107.2" stroke="#223" stroke-width="1.3" />
<line x1="1410.44" y1="119.29" x2="1406.9" y2="122.82" stroke="#223" stroke-width="1.3" />
<line x1="1410.44" y1="150.51" x2="1406.9" y2="146.98" stroke="#223" stroke-width="1.3" />
<line x1="1394.88" y1="166.12" x2="1391.33" y2="162.6" stroke="#223" stroke-width="1.3" />
<line x1="1379.31" y1="181.74" x2="1375.77" y2="178.21" stroke="#223" stroke-width="1.3" />
<line x1="1363.75" y1="197.35" x2="1360.21" y2="193.82" stroke="#223" stroke-width="1.3" />
<line x1="1348.19" y1="212.96" x2="1344.65" y2="209.43" stroke="#223" stroke-width="1.3" />
<line x1="1332.62" y1="228.58" x2="1329.08" y2="225.05" stroke="#223" stroke-width="1.3" />
<line x1="1317.06" y1="244.19" x2="1313.52" y2="240.66" stroke="#223" stroke-width="1.3" />
<line x1="1285.94" y1="244.19" x2="1289.48" y2="240.66" stroke="#223" stroke-width="1.3" />
<line x1="1270.38" y1="228.58" x2="1273.92" y2="225.05" stroke="#223" stroke-width="1.3" />
<line x1="1254.81" y1="212.96" x2="1258.35" y2="209.43" stroke="#223" stroke-width="1.3" />
<line x1="1239.25" y1="197.35" x2="1242.79" y2="193.82" stroke="#223" stroke-width="1.3" />
<line x1="1223.69" y1="181.74" x2="1227.23" y2="178.21" stroke="#223" stroke-width="1.3" />
<line x1="1208.12" y1="166.12" x2="1211.67" y2="162.6" stroke="#223" stroke-width="1.3" />
<line x1="1192.56" y1="150.51" x2="1196.1" y2="146.98" stroke="#223" stroke-width="1.3" />
<line x1="1192.56" y1="119.29" x2="1196.1" y2="122.82" stroke="#223" stroke-width="1.3" />
<line x1="1208.12" y1="103.68" x2="1211.67" y2="107.2" stroke="#223" stroke-width="1.3" />
<line x1="1223.69" y1="88.06" x2="1227.23" y2="91.59" stroke="#223" stroke-width="1.3" />
<line x1="1239.25" y1="72.45" x2="1242.79" y2="75.98" stroke="#223" stroke-width="1.3" />
<line x1="1254.81" y1="56.84" x2="1258.35" y2="60.37" stroke="#223" stroke-width="1.3" />
<line x1="1270.38" y1="41.22" x2="1273.92" y2="44.75" stroke="#223" stroke-width="1.3" />
<line x1="1285.94" y1="25.61" x2="1289.48" y2="29.14" stroke="#223" stroke-width="1.3" />
<polyline points="1177.0,10.0 1426.0,10.0 1426.0,259.8" fill="none" stroke="#111" stroke-width="1.6"/>
<polyline points="1177.0,9.0 1177.0,259.8 1427.0,259.8" fill="none" stroke="#111" stroke-width="2.4"/>
<line x1="1163" y1="10" x2="1177" y2="10" stroke="#111" stroke-width="2.2" />
<line x1="1177" y1="259.8" x2="1177" y2="273.3" stroke="#111" stroke-width="2.2" />
<line x1="1163" y1="41.23" x2="1177" y2="41.23" stroke="#111" stroke-width="2.2" />
<line x1="1208.12" y1="259.8" x2="1208.12" y2="273.3" stroke="#111" stroke-width="2.2" />
<line x1="1163" y1="72.45" x2="1177" y2="72.45" stroke="#111" stroke-width="2.2" />
<line x1="1239.25" y1="259.8" x2="1239.25" y2="273.3" stroke="#111" stroke-width="2.2" />
<line x1="1163" y1="103.68" x2="1177" y2="103.68" stroke="#111" stroke-width="2.2" />
<line x1="1270.38" y1="259.8" x2="1270.38" y2="273.3" stroke="#111" stroke-width="2.2" />
<line x1="1163" y1="134.9" x2="1177" y2="134.9" stroke="#111" stroke-width="2.2" />
<line x1="1301.5" y1="259.8" x2="1301.5" y2="273.3" stroke="#111" stroke-width="2.2" />
<line x1="1163" y1="166.12" x2="1177" y2="166.12" stroke="#111" stroke-width="2.2" />
<line x1="1332.62" y1="259.8" x2="1332.62" y2="273.3" stroke="#111" stroke-width="2.2" />
<line x1="1163" y1="197.35" x2="1177" y2="197.35" stroke="#111" stroke-width="2.2" />
<line x1="1363.75" y1="259.8" x2="1363.75" y2="273.3" stroke="#111" stroke-width="2.2" />
<line x1="1163" y1="228.58" x2="1177" y2="228.58" stroke="#111" stroke-width="2.2" />
<line x1="1394.88" y1="259.8" x2="1394.88" y2="273.3" stroke="#111" stroke-width="2.2" />
<line x1="1163" y1="259.8" x2="1177" y2="259.8" stroke="#111" stroke-width="2.2" />
<line x1="1426" y1="259.8" x2="1426" y2="273.3" stroke="#111" stroke-width="2.2" />
<text x="1104" y="31.3" font-size="31" font-weight="bold" text-anchor="middle" fill="#000" >d</text>
<text x="1151.3" y="15.9" font-size="21.7" font-weight="normal" text-anchor="end" fill="#000" >1.0</text>
<text x="1151.3" y="143.5" font-size="21.7" font-weight="normal" text-anchor="end" fill="#000" >0.0</text>
<text x="1151.3" y="267.7" font-size="21.7" font-weight="normal" text-anchor="end" fill="#000" >-1.0</text>
<text x="1172.8" y="297.4" font-size="21.7" font-weight="normal" text-anchor="middle" fill="#000" >-1.0</text>
<text x="1301.5" y="297.4" font-size="21.7" font-weight="normal" text-anchor="middle" fill="#000" >0.0</text>
<text x="1426" y="297.4" font-size="21.7" font-weight="normal" text-anchor="middle" fill="#000" >1.0</text>
<text x="1236.5" y="320" font-size="21.7" text-anchor="middle">k<tspan font-size="18" dy="2">y</tspan><tspan dy="-2"> (π/a)</tspan></text>
<text x="0" y="0" font-size="21.7" text-anchor="middle" transform="translate(1111.5,188.5) rotate(-90)">k<tspan font-size="16" dy="2">X</tspan><tspan dy="-2"> (π/a)</tspan></text>
<text x="1378.3" y="75.5" font-size="22" font-weight="normal" text-anchor="middle" fill="#000" >X</text>
<line x1="1371.7" y1="56.58" x2="1384.9" y2="56.58" stroke="#000" stroke-width="2" />
<text x="1378.3" y="212.3" font-size="22" font-weight="normal" text-anchor="middle" fill="#000" >X</text>
<line x1="1371.7" y1="193.38" x2="1384.9" y2="193.38" stroke="#000" stroke-width="2" />
<text x="1440" y="143" font-size="22" font-weight="normal" text-anchor="middle" fill="#000" >M</text>
<line x1="1433.4" y1="124.08" x2="1446.6" y2="124.08" stroke="#000" stroke-width="2" />
<text x="1308.5" y="149.5" font-size="22" font-weight="normal" text-anchor="middle" fill="#000" >Γ</text>
<line x1="1301.9" y1="130.58" x2="1315.1" y2="130.58" stroke="#000" stroke-width="2" />
<g clip-path="url(#clipE)"><g filter="url(#cmap)">
<rect x="1535.6" y="5.699999999999999" width="462.8000000000002" height="259.1" fill="#fff"/>
<rect x="1540.6" y="10.7" width="452.8000000000002" height="249.10000000000002" fill="url(#eInk)"/>
<g mask="url(#eMask)"><rect x="1540.6" y="10.7" width="452.8000000000002" height="249.10000000000002" filter="url(#noiseE)" opacity="0.4"/></g>
<path d="M1900,150 C1930,158 1960,170 2000,178 L2000,202 C1960,196 1930,184 1900,170 Z" fill="#000" opacity="0.38" filter="url(#eb14)"/>
<ellipse cx="1975" cy="136" rx="30" ry="12" fill="#000" opacity="0.25" filter="url(#eb10)"/>
<ellipse cx="1980" cy="188" rx="18" ry="9" fill="#000" opacity="0.25" filter="url(#eb8)"/>
<path d="M1536,158 Q1576,130 1600,92 Q1632,96 1662,96 Q1692,96 1724,92 Q1752,130 1802,155 Q1752,180 1726,222 Q1692,216 1662,216 Q1632,216 1598,224 Q1576,184 1536,158 Z" fill="#000" opacity="0.45" filter="url(#eb14)"/>
<path d="M1614,106 C1620,60 1640,28 1660,28 C1680,28 1700,60 1706,106 Z" fill="#000" opacity="0.3" filter="url(#eb14)"/>
<path d="M1616,208 C1620,240 1640,266 1662,266 C1684,266 1704,240 1708,208 Z" fill="#000" opacity="0.3" filter="url(#eb14)"/>
<path d="M1596,94 Q1630,104 1662,102 Q1694,104 1724,94 Q1716,156 1728,220 Q1694,208 1662,210 Q1630,208 1596,222 Q1608,156 1596,94 Z" fill="#000" opacity="0.62" filter="url(#eb14)"/>
<ellipse cx="1722" cy="156" rx="5" ry="40" fill="#fff" opacity="0.15" filter="url(#eb6)"/>
<path d="M1614,134 C1630,128 1648,136 1663,140 C1676,138 1690,132 1702,136 C1704,150 1704,165 1702,178 C1690,178 1675,180 1662,182 C1648,184 1632,193 1616,192 C1612,172 1612,152 1614,134 Z" fill="#000" opacity="0.97" filter="url(#eb6)"/>
<path d="M1612,125 C1635,122 1650,132 1663,133 C1676,132 1692,125 1708,128 L1708,186 C1690,186 1675,188 1662,190 C1648,192 1632,198 1612,199 Z" fill="#000" opacity="0.5" filter="url(#eb10)"/>
<circle cx="1662.6" cy="157" r="11" fill="#fff" opacity="0.28" filter="url(#eb4)"/>
</g></g>
<rect x="1540.6" y="10.7" width="452.8" height="249.1" fill="none" stroke="#111" stroke-width="2.6"/>
<line x1="1526.6" y1="59.8" x2="1540.6" y2="59.8" stroke="#111" stroke-width="2.4" />
<text x="1519.5" y="67.3" font-size="21.7" font-weight="normal" text-anchor="end" fill="#000" >0.2</text>
<line x1="1526.6" y1="156.6" x2="1540.6" y2="156.6" stroke="#111" stroke-width="2.4" />
<text x="1519.5" y="164.1" font-size="21.7" font-weight="normal" text-anchor="end" fill="#000" >0.0</text>
<line x1="1526.6" y1="253.4" x2="1540.6" y2="253.4" stroke="#111" stroke-width="2.4" />
<text x="1519.5" y="260.9" font-size="21.7" font-weight="normal" text-anchor="end" fill="#000" >-0.2</text>
<line x1="1565.4" y1="259.8" x2="1565.4" y2="273.8" stroke="#111" stroke-width="2.4" />
<text x="1561.7" y="297.5" font-size="21.7" font-weight="normal" text-anchor="middle" fill="#000" >-0.2</text>
<line x1="1662.8" y1="259.8" x2="1662.8" y2="273.8" stroke="#111" stroke-width="2.4" />
<text x="1662.8" y="297.5" font-size="21.7" font-weight="normal" text-anchor="middle" fill="#000" >0.0</text>
<line x1="1760.2" y1="259.8" x2="1760.2" y2="273.8" stroke="#111" stroke-width="2.4" />
<text x="1760.2" y="297.5" font-size="21.7" font-weight="normal" text-anchor="middle" fill="#000" >0.2</text>
<line x1="1857.6" y1="259.8" x2="1857.6" y2="273.8" stroke="#111" stroke-width="2.4" />
<text x="1857.6" y="297.5" font-size="21.7" font-weight="normal" text-anchor="middle" fill="#000" >0.4</text>
<line x1="1955" y1="259.8" x2="1955" y2="273.8" stroke="#111" stroke-width="2.4" />
<text x="1955" y="297.5" font-size="21.7" font-weight="normal" text-anchor="middle" fill="#000" >0.6</text>
<text x="1468.6" y="31.3" font-size="31" font-weight="bold" text-anchor="middle" fill="#000" >e</text>
<text x="1745" y="320" font-size="21.7" text-anchor="middle">k<tspan font-size="18" dy="2">y</tspan><tspan dy="-2"> (π/a)</tspan></text>
<text x="0" y="0" font-size="21.7" text-anchor="middle" transform="translate(1473.5,202.2) rotate(-90)">k<tspan font-size="16" dy="2">X</tspan><tspan dy="-2"> (π/a)</tspan></text>
<g clip-path="url(#dc83)"><g filter="url(#cmap)">
<rect x="73.6" y="358.9" width="309.2" height="269.1" fill="#fff"/>
<rect x="83.6" y="386" width="289.2" height="240" fill="#000" opacity="0.03"/>
<path d="M128.6,392 L240.6,392 L288.6,625 L78.6,625 Z" fill="#000" opacity="0.13" filter="url(#fb20)"/>
<path d="M153.6,396 L218.6,396 L255.6,625 L113.6,625 Z" fill="#000" opacity="0.12" filter="url(#fb16)"/>
<path d="M157.6,404 C159.6,410.83 165.6,433.33 169.6,445 C173.6,456.67 179.6,469.17 181.6,474" fill="none" stroke="#000" stroke-width="20" stroke-linecap="round" stroke-linejoin="round" opacity="0.17" filter="url(#fb16)"/>
<path d="M213.6,404 C211.6,410.83 205.43,433.33 201.6,445 C197.77,456.67 192.43,469.17 190.6,474" fill="none" stroke="#000" stroke-width="20" stroke-linecap="round" stroke-linejoin="round" opacity="0.17" filter="url(#fb16)"/>
<path d="M186.3,480 C186.43,490 186.97,530 187.1,540" fill="none" stroke="#000" stroke-width="16" stroke-linecap="round" stroke-linejoin="round" opacity="0.2" filter="url(#fb12)"/>
<ellipse cx="186.6" cy="512" rx="9" ry="16" fill="#000" opacity="0.15" filter="url(#fb10)"/>
<path d="M183.6,490 C178.43,500.17 161.6,529 152.6,551 C143.6,573 133.43,610.17 129.6,622" fill="none" stroke="#000" stroke-width="14" stroke-linecap="round" stroke-linejoin="round" opacity="0.1" filter="url(#fb12)"/>
<path d="M188.6,490 C194.43,500.17 214.27,529 223.6,551 C232.93,573 241.1,610.17 244.6,622" fill="none" stroke="#000" stroke-width="14" stroke-linecap="round" stroke-linejoin="round" opacity="0.1" filter="url(#fb12)"/>
<path d="M187.1,515 L215.1,626 L159.1,626 Z" fill="#000" opacity="0.42" filter="url(#fb10)"/>
<path d="M187.1,530 L207.1,626 L167.1,626 Z" fill="#000" opacity="0.45" filter="url(#fb6)"/>
<ellipse cx="187.1" cy="574" rx="6" ry="13" fill="#000" opacity="0.95" filter="url(#fb8)"/>
<ellipse cx="186.6" cy="612" rx="6" ry="8" fill="#fff" opacity="0.25" filter="url(#fb6)"/>
<rect x="78.6" y="363.9" width="299.2" height="22.1" fill="#fff"/>
<rect x="78.6" y="384" width="299.2" height="12" fill="url(#fTopFade)"/>
</g></g>
<g clip-path="url(#ic83)"><g filter="url(#cmap)">
<rect x="263.1" y="376.5" width="110.5" height="112.1" fill="#fff"/>
<rect x="265.1" y="382.5" width="106.5" height="104.1" fill="url(#ig83)"/>
<path d="M259.1,382.5 L270.1,382.5 L277.1,492.6 L259.1,492.6 Z" fill="#000" opacity="0.55" filter="url(#fb4)"/>
<path d="M259.1,451.6 L269.9,461.6 L275.9,492.6 L259.1,492.6 Z" fill="#000" opacity="0.85" filter="url(#fb8)"/>
<path d="M282.1,382.5 C283.6,390.83 288.27,415.83 291.1,432.5 C293.93,449.17 297.77,474.17 299.1,482.5" fill="none" stroke="#000" stroke-width="6" stroke-linecap="round" opacity="0.1" filter="url(#fb6)"/>
<rect x="265.1" y="382.5" width="106.5" height="104.1" filter="url(#noiseInk)" opacity="0.18"/>
<rect x="263.1" y="376.5" width="110.5" height="14" fill="url(#fTopFade)"/>
</g></g>
<line x1="67.1" y1="389.2" x2="83.6" y2="389.2" stroke="#111" stroke-width="2.2" />
<line x1="67.1" y1="424.95" x2="83.6" y2="424.95" stroke="#111" stroke-width="2.2" />
<line x1="67.1" y1="460.7" x2="83.6" y2="460.7" stroke="#111" stroke-width="2.2" />
<line x1="67.1" y1="496.45" x2="83.6" y2="496.45" stroke="#111" stroke-width="2.2" />
<line x1="67.1" y1="532.2" x2="83.6" y2="532.2" stroke="#111" stroke-width="2.2" />
<line x1="67.1" y1="567.95" x2="83.6" y2="567.95" stroke="#111" stroke-width="2.2" />
<line x1="67.1" y1="603.7" x2="83.6" y2="603.7" stroke="#111" stroke-width="2.2" />
<line x1="115.73" y1="618" x2="115.73" y2="636" stroke="#111" stroke-width="2.2" />
<text x="112.93" y="662.8" font-size="21.8" font-weight="normal" text-anchor="middle" fill="#000" >-0.1</text>
<line x1="180" y1="618" x2="180" y2="636" stroke="#111" stroke-width="2.2" />
<text x="177.2" y="662.8" font-size="21.8" font-weight="normal" text-anchor="middle" fill="#000" >0.0</text>
<line x1="244.27" y1="618" x2="244.27" y2="636" stroke="#111" stroke-width="2.2" />
<text x="241.47" y="662.8" font-size="21.8" font-weight="normal" text-anchor="middle" fill="#000" >0.1</text>
<line x1="308.53" y1="618" x2="308.53" y2="636" stroke="#111" stroke-width="2.2" />
<text x="305.73" y="662.8" font-size="21.8" font-weight="normal" text-anchor="middle" fill="#000" >0.2</text>
<line x1="372.8" y1="618" x2="372.8" y2="636" stroke="#111" stroke-width="2.2" />
<text x="361.5" y="662.8" font-size="21.8" font-weight="normal" text-anchor="middle" fill="#000" >0.3</text>
<text x="247.4" y="686.3" font-size="22.4" font-weight="normal" text-anchor="middle" fill="#000" >Momentum (π/a)</text>
<rect x="83.6" y="368.9" width="289.2" height="249.1" fill="none" stroke="#111" stroke-width="2.5"/>
<text x="365.7" y="611.9" font-size="31" font-weight="bold" text-anchor="end" fill="#000" >26 K</text>
<g clip-path="url(#dc411)"><g filter="url(#cmap)">
<rect x="401.2" y="358.9" width="309.2" height="269.1" fill="#fff"/>
<rect x="411.2" y="386" width="289.2" height="240" fill="#000" opacity="0.03"/>
<path d="M466.2,392 L561.2,392 L616.2,625 L416.2,625 Z" fill="#000" opacity="0.12" filter="url(#fb20)"/>
<path d="M489.2,396 L539.2,396 L581.2,625 L446.2,625 Z" fill="#000" opacity="0.09" filter="url(#fb16)"/>
<path d="M475.2,445 C477.87,438.33 484.6,413.17 491.2,405 C497.8,396.83 506.97,396 514.8,396 C522.63,396 531.63,396.83 538.2,405 C544.77,413.17 551.53,438.33 554.2,445" fill="none" stroke="#000" stroke-width="16" stroke-linecap="round" stroke-linejoin="round" opacity="0.07" filter="url(#fb20)"/>
<path d="M475.2,445 C475.87,450 477.2,465.83 479.2,475 C481.2,484.17 485.87,495.83 487.2,500" fill="none" stroke="#000" stroke-width="12" stroke-linecap="round" stroke-linejoin="round" opacity="0.07" filter="url(#fb16)"/>
<path d="M554.2,445 C553.37,450 551.37,465.83 549.2,475 C547.03,484.17 542.53,495.83 541.2,500" fill="none" stroke="#000" stroke-width="12" stroke-linecap="round" stroke-linejoin="round" opacity="0.07" filter="url(#fb16)"/>
<ellipse cx="514.2" cy="440" rx="32" ry="38" fill="#000" opacity="0.03" filter="url(#fb24)"/>
<path d="M514.8,527 C511.87,534.17 503.3,554.17 497.2,570 C491.1,585.83 481.37,613.33 478.2,622" fill="none" stroke="#000" stroke-width="10" stroke-linecap="round" stroke-linejoin="round" opacity="0.16" filter="url(#fb10)"/>
<path d="M514.8,527 C518.2,534.17 528.63,554.17 535.2,570 C541.77,585.83 551.03,613.33 554.2,622" fill="none" stroke="#000" stroke-width="10" stroke-linecap="round" stroke-linejoin="round" opacity="0.16" filter="url(#fb10)"/>
<path d="M527.2,538 C530.53,544.67 540.87,564 547.2,578 C553.53,592 562.2,614.67 565.2,622" fill="none" stroke="#000" stroke-width="6" stroke-linecap="round" stroke-linejoin="round" opacity="0.12" filter="url(#fb5)"/>
<path d="M483.2,497 C485.87,500 494.53,510.33 499.2,515 C503.87,519.67 509.2,523.33 511.2,525" fill="none" stroke="#000" stroke-width="12" stroke-linecap="round" stroke-linejoin="round" opacity="0.3" filter="url(#fb12)"/>
<path d="M543.2,497 C540.7,500 532.37,510.33 528.2,515 C524.03,519.67 519.87,523.33 518.2,525" fill="none" stroke="#000" stroke-width="12" stroke-linecap="round" stroke-linejoin="round" opacity="0.3" filter="url(#fb12)"/>
<path d="M514.8,528 C514.37,532.67 512.63,551.33 512.2,556" fill="none" stroke="#000" stroke-width="10" stroke-linecap="round" stroke-linejoin="round" opacity="0.15" filter="url(#fb8)"/>
<path d="M485.7,626 C485.7,581.8 502.6,558 511.7,558 C520.8,558 537.7,581.8 537.7,626 Z" fill="#000" opacity="0.55" filter="url(#fb8)"/>
<ellipse cx="511.7" cy="581" rx="6.5" ry="10" fill="#000" opacity="0.95" filter="url(#fb8)"/>
<ellipse cx="511.2" cy="612" rx="6" ry="8" fill="#fff" opacity="0.25" filter="url(#fb6)"/>
<rect x="406.2" y="363.9" width="299.2" height="22.1" fill="#fff"/>
<rect x="406.2" y="384" width="299.2" height="12" fill="url(#fTopFade)"/>
</g></g>
<g clip-path="url(#ic411)"><g filter="url(#cmap)">
<rect x="590.7" y="376.5" width="110.5" height="112.1" fill="#fff"/>
<rect x="592.7" y="382.5" width="106.5" height="104.1" fill="url(#ig411)"/>
<path d="M586.7,382.5 L596.7,382.5 L601.7,492.6 L586.7,492.6 Z" fill="#000" opacity="0.55" filter="url(#fb4)"/>
<path d="M586.7,451.6 L596.3,461.6 L600.8,492.6 L586.7,492.6 Z" fill="#000" opacity="0.6" filter="url(#fb8)"/>
<path d="M633.7,386.5 C638.87,392 654.37,408.5 664.7,419.5 C675.03,430.5 690.53,447 695.7,452.5" fill="none" stroke="#000" stroke-width="11" stroke-linecap="round" opacity="0.22" filter="url(#fb6)"/>
<rect x="592.7" y="382.5" width="106.5" height="104.1" filter="url(#noiseInk)" opacity="0.18"/>
<rect x="590.7" y="376.5" width="110.5" height="14" fill="url(#fTopFade)"/>
</g></g>
<line x1="394.7" y1="389.2" x2="411.2" y2="389.2" stroke="#111" stroke-width="2.2" />
<line x1="394.7" y1="424.95" x2="411.2" y2="424.95" stroke="#111" stroke-width="2.2" />
<line x1="394.7" y1="460.7" x2="411.2" y2="460.7" stroke="#111" stroke-width="2.2" />
<line x1="394.7" y1="496.45" x2="411.2" y2="496.45" stroke="#111" stroke-width="2.2" />
<line x1="394.7" y1="532.2" x2="411.2" y2="532.2" stroke="#111" stroke-width="2.2" />
<line x1="394.7" y1="567.95" x2="411.2" y2="567.95" stroke="#111" stroke-width="2.2" />
<line x1="394.7" y1="603.7" x2="411.2" y2="603.7" stroke="#111" stroke-width="2.2" />
<line x1="443.33" y1="618" x2="443.33" y2="636" stroke="#111" stroke-width="2.2" />
<text x="443.53" y="662.8" font-size="21.8" font-weight="normal" text-anchor="middle" fill="#000" >-0.1</text>
<line x1="507.6" y1="618" x2="507.6" y2="636" stroke="#111" stroke-width="2.2" />
<text x="507.8" y="662.8" font-size="21.8" font-weight="normal" text-anchor="middle" fill="#000" >0.0</text>
<line x1="571.87" y1="618" x2="571.87" y2="636" stroke="#111" stroke-width="2.2" />
<text x="572.07" y="662.8" font-size="21.8" font-weight="normal" text-anchor="middle" fill="#000" >0.1</text>
<line x1="636.13" y1="618" x2="636.13" y2="636" stroke="#111" stroke-width="2.2" />
<text x="636.33" y="662.8" font-size="21.8" font-weight="normal" text-anchor="middle" fill="#000" >0.2</text>
<line x1="700.4" y1="618" x2="700.4" y2="636" stroke="#111" stroke-width="2.2" />
<text x="692.1" y="662.8" font-size="21.8" font-weight="normal" text-anchor="middle" fill="#000" >0.3</text>
<text x="578" y="686.3" font-size="22.4" font-weight="normal" text-anchor="middle" fill="#000" >Momentum (π/a)</text>
<rect x="411.2" y="368.9" width="289.2" height="249.1" fill="none" stroke="#111" stroke-width="2.5"/>
<text x="692.2" y="611.9" font-size="31" font-weight="bold" text-anchor="end" fill="#000" >22 K</text>
<g clip-path="url(#dc730)"><g filter="url(#cmap)">
<rect x="720.6" y="358.9" width="309.2" height="269.1" fill="#fff"/>
<rect x="730.6" y="386" width="289.2" height="240" fill="#000" opacity="0.03"/>
<path d="M785.6,392 L880.6,392 L935.6,625 L735.6,625 Z" fill="#000" opacity="0.12" filter="url(#fb20)"/>
<path d="M808.6,396 L858.6,396 L900.6,625 L765.6,625 Z" fill="#000" opacity="0.09" filter="url(#fb16)"/>
<path d="M792.6,448 C795.27,441.33 802.1,416.33 808.6,408 C815.1,399.67 823.93,398 831.6,398 C839.27,398 848.1,399.67 854.6,408 C861.1,416.33 867.93,441.33 870.6,448" fill="none" stroke="#000" stroke-width="16" stroke-linecap="round" stroke-linejoin="round" opacity="0.07" filter="url(#fb20)"/>
<path d="M792.6,448 C793.27,453 794.27,468.83 796.6,478 C798.93,487.17 804.93,498.83 806.6,503" fill="none" stroke="#000" stroke-width="12" stroke-linecap="round" stroke-linejoin="round" opacity="0.07" filter="url(#fb16)"/>
<path d="M870.6,448 C869.93,453 868.93,468.83 866.6,478 C864.27,487.17 858.27,498.83 856.6,503" fill="none" stroke="#000" stroke-width="12" stroke-linecap="round" stroke-linejoin="round" opacity="0.07" filter="url(#fb16)"/>
<ellipse cx="831.6" cy="444" rx="32" ry="38" fill="#000" opacity="0.03" filter="url(#fb24)"/>
<path d="M831.2,530 C828.27,537 819.7,556.67 813.6,572 C807.5,587.33 797.77,613.67 794.6,622" fill="none" stroke="#000" stroke-width="10" stroke-linecap="round" stroke-linejoin="round" opacity="0.16" filter="url(#fb10)"/>
<path d="M831.2,530 C834.1,537 842.53,556.67 848.6,572 C854.67,587.33 864.43,613.67 867.6,622" fill="none" stroke="#000" stroke-width="10" stroke-linecap="round" stroke-linejoin="round" opacity="0.16" filter="url(#fb10)"/>
<path d="M849.3,541 C851.35,546.17 857.22,561.33 861.6,572 C865.98,582.67 873.27,599.5 875.6,605" fill="none" stroke="#000" stroke-width="5" stroke-linecap="round" stroke-linejoin="round" opacity="0.14" filter="url(#fb4)"/>
<path d="M802.6,500 C804.93,503 812.43,513.33 816.6,518 C820.77,522.67 825.77,526.33 827.6,528" fill="none" stroke="#000" stroke-width="12" stroke-linecap="round" stroke-linejoin="round" opacity="0.32" filter="url(#fb12)"/>
<path d="M858.6,500 C856.27,503 848.6,513.33 844.6,518 C840.6,522.67 836.27,526.33 834.6,528" fill="none" stroke="#000" stroke-width="12" stroke-linecap="round" stroke-linejoin="round" opacity="0.32" filter="url(#fb12)"/>
<path d="M831.2,531 C830.77,535.83 829.03,555.17 828.6,560" fill="none" stroke="#000" stroke-width="10" stroke-linecap="round" stroke-linejoin="round" opacity="0.15" filter="url(#fb8)"/>
<path d="M802.1,626 C802.1,584.4 819,562 828.1,562 C837.2,562 854.1,584.4 854.1,626 Z" fill="#000" opacity="0.55" filter="url(#fb8)"/>
<ellipse cx="828.1" cy="584.5" rx="6.5" ry="10" fill="#000" opacity="0.95" filter="url(#fb8)"/>
<ellipse cx="827.6" cy="612" rx="6" ry="8" fill="#fff" opacity="0.25" filter="url(#fb6)"/>
<rect x="725.6" y="363.9" width="299.2" height="22.1" fill="#fff"/>
<rect x="725.6" y="384" width="299.2" height="12" fill="url(#fTopFade)"/>
</g></g>
<g clip-path="url(#ic730)"><g filter="url(#cmap)">
<rect x="910.1" y="376.5" width="110.5" height="112.1" fill="#fff"/>
<rect x="912.1" y="382.5" width="106.5" height="104.1" fill="url(#ig730)"/>
<path d="M906.1,382.5 L916.1,382.5 L921.1,492.6 L906.1,492.6 Z" fill="#000" opacity="0.55" filter="url(#fb4)"/>
<path d="M906.1,451.6 L915.7,461.6 L920.2,492.6 L906.1,492.6 Z" fill="#000" opacity="0.6" filter="url(#fb8)"/>
<path d="M953.1,386.5 C958.27,392 973.77,408.5 984.1,419.5 C994.43,430.5 1009.93,447 1015.1,452.5" fill="none" stroke="#000" stroke-width="11" stroke-linecap="round" opacity="0.28" filter="url(#fb6)"/>
<rect x="912.1" y="382.5" width="106.5" height="104.1" filter="url(#noiseInk)" opacity="0.18"/>
<rect x="910.1" y="376.5" width="110.5" height="14" fill="url(#fTopFade)"/>
</g></g>
<line x1="714.1" y1="389.2" x2="730.6" y2="389.2" stroke="#111" stroke-width="2.2" />
<line x1="714.1" y1="424.95" x2="730.6" y2="424.95" stroke="#111" stroke-width="2.2" />
<line x1="714.1" y1="460.7" x2="730.6" y2="460.7" stroke="#111" stroke-width="2.2" />
<line x1="714.1" y1="496.45" x2="730.6" y2="496.45" stroke="#111" stroke-width="2.2" />
<line x1="714.1" y1="532.2" x2="730.6" y2="532.2" stroke="#111" stroke-width="2.2" />
<line x1="714.1" y1="567.95" x2="730.6" y2="567.95" stroke="#111" stroke-width="2.2" />
<line x1="714.1" y1="603.7" x2="730.6" y2="603.7" stroke="#111" stroke-width="2.2" />
<line x1="762.73" y1="618" x2="762.73" y2="636" stroke="#111" stroke-width="2.2" />
<text x="762.93" y="662.8" font-size="21.8" font-weight="normal" text-anchor="middle" fill="#000" >-0.1</text>
<line x1="827" y1="618" x2="827" y2="636" stroke="#111" stroke-width="2.2" />
<text x="827.2" y="662.8" font-size="21.8" font-weight="normal" text-anchor="middle" fill="#000" >0.0</text>
<line x1="891.27" y1="618" x2="891.27" y2="636" stroke="#111" stroke-width="2.2" />
<text x="891.47" y="662.8" font-size="21.8" font-weight="normal" text-anchor="middle" fill="#000" >0.1</text>
<line x1="955.53" y1="618" x2="955.53" y2="636" stroke="#111" stroke-width="2.2" />
<text x="955.73" y="662.8" font-size="21.8" font-weight="normal" text-anchor="middle" fill="#000" >0.2</text>
<line x1="1019.8" y1="618" x2="1019.8" y2="636" stroke="#111" stroke-width="2.2" />
<text x="1011.5" y="662.8" font-size="21.8" font-weight="normal" text-anchor="middle" fill="#000" >0.3</text>
<text x="897.4" y="686.3" font-size="22.4" font-weight="normal" text-anchor="middle" fill="#000" >Momentum (π/a)</text>
<rect x="730.6" y="368.9" width="289.2" height="249.1" fill="none" stroke="#111" stroke-width="2.5"/>
<text x="1008.4" y="611.9" font-size="31" font-weight="bold" text-anchor="end" fill="#000" >20 K</text>
<line x1="905.5" y1="507.5" x2="878.5" y2="507.5" stroke="#ee1c24" stroke-width="2.3"/>
<polygon points="867.5,507.5 881.5,500 878.5,507.5 881.5,515" fill="#ee1c24"/>
<text x="919.5" y="515.5" font-size="25" font-weight="bold" font-style="italic" text-anchor="middle" fill="#ee1c24">ε</text>
<line x1="907.5" y1="566.5" x2="881.5" y2="566.5" stroke="#ee1c24" stroke-width="2.3"/>
<polygon points="870.5,566.5 884.5,559 881.5,566.5 884.5,574" fill="#ee1c24"/>
<text x="921.5" y="575" font-size="25" font-weight="bold" font-style="italic" text-anchor="middle" fill="#ee1c24">ζ</text>
<g clip-path="url(#dc1057)"><g filter="url(#cmap)">
<rect x="1047.4" y="358.9" width="309.2" height="269.1" fill="#fff"/>
<rect x="1057.4" y="386" width="289.2" height="240" fill="#000" opacity="0.03"/>
<path d="M1102.4,394 L1207.4,394 L1252.4,625 L1057.4,625 Z" fill="#000" opacity="0.17" filter="url(#fb20)"/>
<path d="M1117.4,400 L1193.4,400 L1237.4,625 L1077.4,625 Z" fill="#000" opacity="0.1" filter="url(#fb16)"/>
<path d="M1077.4,622 C1079.83,603.67 1087.83,539.83 1092,512 C1096.17,484.17 1099.5,470.33 1102.4,455 C1105.3,439.67 1106.9,427.83 1109.4,420 C1111.9,412.17 1114.4,408 1117.4,408 C1120.4,408 1123.23,412.17 1127.4,420 C1131.57,427.83 1137.13,443 1142.4,455 C1147.67,467 1156.23,485.83 1159,492" fill="none" stroke="#000" stroke-width="16" stroke-linecap="round" stroke-linejoin="round" opacity="0.22" filter="url(#fb12)"/>
<path d="M1236.4,622 C1234.65,605 1229.9,547 1225.9,520 C1221.9,493 1216.32,476.67 1212.4,460 C1208.48,443.33 1205.57,428.67 1202.4,420 C1199.23,411.33 1196.57,408 1193.4,408 C1190.23,408 1186.73,412.17 1183.4,420 C1180.07,427.83 1177.47,443 1173.4,455 C1169.33,467 1161.4,485.83 1159,492" fill="none" stroke="#000" stroke-width="16" stroke-linecap="round" stroke-linejoin="round" opacity="0.22" filter="url(#fb12)"/>
<path d="M1159,492 C1155.4,501.67 1145.5,528.33 1137.4,550 C1129.3,571.67 1114.9,610 1110.4,622" fill="none" stroke="#000" stroke-width="13" stroke-linecap="round" stroke-linejoin="round" opacity="0.13" filter="url(#fb10)"/>
<path d="M1159,492 C1162.9,501.67 1174.33,528.33 1182.4,550 C1190.47,571.67 1203.23,610 1207.4,622" fill="none" stroke="#000" stroke-width="13" stroke-linecap="round" stroke-linejoin="round" opacity="0.13" filter="url(#fb10)"/>
<ellipse cx="1159" cy="493" rx="15" ry="15" fill="#000" opacity="0.3" filter="url(#fb16)"/>
<path d="M1129.4,626 C1129.4,583.1 1146.3,560 1155.4,560 C1164.5,560 1181.4,583.1 1181.4,626 Z" fill="#000" opacity="0.55" filter="url(#fb8)"/>
<ellipse cx="1155.4" cy="580" rx="8" ry="11" fill="#000" opacity="0.97" filter="url(#fb8)"/>
<ellipse cx="1155.4" cy="612" rx="8" ry="10" fill="#fff" opacity="0.35" filter="url(#fb6)"/>
<rect x="1052.4" y="363.9" width="299.2" height="22.1" fill="#fff"/>
<rect x="1052.4" y="384" width="299.2" height="12" fill="url(#fTopFade)"/>
</g></g>
<g clip-path="url(#ic1057)"><g filter="url(#cmap)">
<rect x="1236.9" y="376.5" width="110.5" height="112.1" fill="#fff"/>
<rect x="1238.9" y="382.5" width="106.5" height="104.1" fill="url(#ig1057)"/>
<path d="M1232.9,382.5 L1242.9,382.5 L1247.9,492.6 L1232.9,492.6 Z" fill="#000" opacity="0.5" filter="url(#fb4)"/>
<path d="M1232.9,451.6 L1242.5,461.6 L1247,492.6 L1232.9,492.6 Z" fill="#000" opacity="0.6" filter="url(#fb8)"/>
<path d="M1286.9,388.5 C1291.57,394.5 1305.9,412.83 1314.9,424.5 C1323.9,436.17 1336.57,452.83 1340.9,458.5" fill="none" stroke="#000" stroke-width="13" stroke-linecap="round" opacity="0.32" filter="url(#fb6)"/>
<path d="M1284.9,387.5 C1286.57,389 1293.23,395 1294.9,396.5" fill="none" stroke="#000" stroke-width="10" stroke-linecap="round" opacity="0.15" filter="url(#fb6)"/>
<rect x="1238.9" y="382.5" width="106.5" height="104.1" filter="url(#noiseInk)" opacity="0.18"/>
<rect x="1236.9" y="376.5" width="110.5" height="14" fill="url(#fTopFade)"/>
</g></g>
<line x1="1040.9" y1="389.2" x2="1057.4" y2="389.2" stroke="#111" stroke-width="2.2" />
<line x1="1040.9" y1="424.95" x2="1057.4" y2="424.95" stroke="#111" stroke-width="2.2" />
<line x1="1040.9" y1="460.7" x2="1057.4" y2="460.7" stroke="#111" stroke-width="2.2" />
<line x1="1040.9" y1="496.45" x2="1057.4" y2="496.45" stroke="#111" stroke-width="2.2" />
<line x1="1040.9" y1="532.2" x2="1057.4" y2="532.2" stroke="#111" stroke-width="2.2" />
<line x1="1040.9" y1="567.95" x2="1057.4" y2="567.95" stroke="#111" stroke-width="2.2" />
<line x1="1040.9" y1="603.7" x2="1057.4" y2="603.7" stroke="#111" stroke-width="2.2" />
<line x1="1089.53" y1="618" x2="1089.53" y2="636" stroke="#111" stroke-width="2.2" />
<text x="1089.73" y="662.8" font-size="21.8" font-weight="normal" text-anchor="middle" fill="#000" >-0.1</text>
<line x1="1153.8" y1="618" x2="1153.8" y2="636" stroke="#111" stroke-width="2.2" />
<text x="1154" y="662.8" font-size="21.8" font-weight="normal" text-anchor="middle" fill="#000" >0.0</text>
<line x1="1218.07" y1="618" x2="1218.07" y2="636" stroke="#111" stroke-width="2.2" />
<text x="1218.27" y="662.8" font-size="21.8" font-weight="normal" text-anchor="middle" fill="#000" >0.1</text>
<line x1="1282.33" y1="618" x2="1282.33" y2="636" stroke="#111" stroke-width="2.2" />
<text x="1282.53" y="662.8" font-size="21.8" font-weight="normal" text-anchor="middle" fill="#000" >0.2</text>
<line x1="1346.6" y1="618" x2="1346.6" y2="636" stroke="#111" stroke-width="2.2" />
<text x="1338.3" y="662.8" font-size="21.8" font-weight="normal" text-anchor="middle" fill="#000" >0.3</text>
<text x="1224.2" y="686.3" font-size="22.4" font-weight="normal" text-anchor="middle" fill="#000" >Momentum (π/a)</text>
<rect x="1057.4" y="368.9" width="289.2" height="249.1" fill="none" stroke="#111" stroke-width="2.5"/>
<text x="1340" y="611.9" font-size="31" font-weight="bold" text-anchor="end" fill="#000" >18 K</text>
<g clip-path="url(#dc1376)"><g filter="url(#cmap)">
<rect x="1366.7" y="358.9" width="309.2" height="269.1" fill="#fff"/>
<rect x="1376.7" y="386" width="289.2" height="240" fill="#000" opacity="0.03"/>
<path d="M1416.7,394 L1526.7,394 L1576.7,625 L1376.7,625 Z" fill="#000" opacity="0.18" filter="url(#fb20)"/>
<path d="M1431.7,400 L1511.7,400 L1561.7,625 L1391.7,625 Z" fill="#000" opacity="0.11" filter="url(#fb16)"/>
<path d="M1402.1,622 C1403.53,605 1408.6,544.33 1410.7,520 C1412.8,495.67 1413.03,491 1414.7,476 C1416.37,461 1418.28,441.33 1420.7,430 C1423.12,418.67 1426.2,410 1429.2,408 C1432.2,406 1434.78,411.33 1438.7,418 C1442.62,424.67 1447.05,437 1452.7,448 C1458.35,459 1469.28,478 1472.6,484" fill="none" stroke="#000" stroke-width="15" stroke-linecap="round" stroke-linejoin="round" opacity="0.27" filter="url(#fb12)"/>
<path d="M1557.7,622 C1556.77,615.83 1556.65,609.33 1552.1,585 C1547.55,560.67 1535.3,501 1530.4,476 C1525.5,451 1525.72,446.33 1522.7,435 C1519.68,423.67 1515.63,410.83 1512.3,408 C1508.97,405.17 1506.3,411.33 1502.7,418 C1499.1,424.67 1495.72,437 1490.7,448 C1485.68,459 1475.62,478 1472.6,484" fill="none" stroke="#000" stroke-width="15" stroke-linecap="round" stroke-linejoin="round" opacity="0.25" filter="url(#fb12)"/>
<path d="M1472.6,484 C1469.62,495 1460.73,527 1454.7,550 C1448.67,573 1439.45,610 1436.4,622" fill="none" stroke="#000" stroke-width="12" stroke-linecap="round" stroke-linejoin="round" opacity="0.15" filter="url(#fb10)"/>
<path d="M1476.7,492 C1480.87,501.67 1492.75,528.33 1501.7,550 C1510.65,571.67 1525.62,610 1530.4,622" fill="none" stroke="#000" stroke-width="9" stroke-linecap="round" stroke-linejoin="round" opacity="0.18" filter="url(#fb6)"/>
<path d="M1494.3,541 C1496.03,547.5 1501.7,566.5 1504.7,580 C1507.7,593.5 1511.03,615 1512.3,622" fill="none" stroke="#000" stroke-width="6" stroke-linecap="round" stroke-linejoin="round" opacity="0.15" filter="url(#fb5)"/>
<ellipse cx="1472.6" cy="485" rx="15" ry="15" fill="#000" opacity="0.4" filter="url(#fb16)"/>
<path d="M1443.7,626 C1443.7,581.15 1461.25,557 1470.7,557 C1480.15,557 1497.7,581.15 1497.7,626 Z" fill="#000" opacity="0.55" filter="url(#fb8)"/>
<ellipse cx="1470.7" cy="586" rx="10" ry="14" fill="#000" opacity="0.98" filter="url(#fb8)"/>
<rect x="1371.7" y="363.9" width="299.2" height="22.1" fill="#fff"/>
<rect x="1371.7" y="384" width="299.2" height="12" fill="url(#fTopFade)"/>
</g></g>
<g clip-path="url(#ic1376)"><g filter="url(#cmap)">
<rect x="1556.2" y="376.5" width="110.5" height="112.1" fill="#fff"/>
<rect x="1558.2" y="382.5" width="106.5" height="104.1" fill="url(#ig1376)"/>
<path d="M1552.2,382.5 L1561.2,382.5 L1566.2,492.6 L1552.2,492.6 Z" fill="#000" opacity="0.45" filter="url(#fb4)"/>
<path d="M1552.2,451.6 L1561.4,461.6 L1565.4,492.6 L1552.2,492.6 Z" fill="#000" opacity="0.85" filter="url(#fb8)"/>
<path d="M1606.2,386.5 C1610.53,391.83 1623.2,407.5 1632.2,418.5 C1641.2,429.5 1655.53,446.83 1660.2,452.5" fill="none" stroke="#000" stroke-width="13" stroke-linecap="round" opacity="0.45" filter="url(#fb6)"/>
<path d="M1605.2,384.5 C1607.03,386.5 1614.37,394.5 1616.2,396.5" fill="none" stroke="#000" stroke-width="12" stroke-linecap="round" opacity="0.4" filter="url(#fb6)"/>
<rect x="1558.2" y="382.5" width="106.5" height="104.1" filter="url(#noiseInk)" opacity="0.18"/>
<rect x="1556.2" y="376.5" width="110.5" height="14" fill="url(#fTopFade)"/>
</g></g>
<line x1="1360.2" y1="389.2" x2="1376.7" y2="389.2" stroke="#111" stroke-width="2.2" />
<line x1="1360.2" y1="424.95" x2="1376.7" y2="424.95" stroke="#111" stroke-width="2.2" />
<line x1="1360.2" y1="460.7" x2="1376.7" y2="460.7" stroke="#111" stroke-width="2.2" />
<line x1="1360.2" y1="496.45" x2="1376.7" y2="496.45" stroke="#111" stroke-width="2.2" />
<line x1="1360.2" y1="532.2" x2="1376.7" y2="532.2" stroke="#111" stroke-width="2.2" />
<line x1="1360.2" y1="567.95" x2="1376.7" y2="567.95" stroke="#111" stroke-width="2.2" />
<line x1="1360.2" y1="603.7" x2="1376.7" y2="603.7" stroke="#111" stroke-width="2.2" />
<line x1="1408.83" y1="618" x2="1408.83" y2="636" stroke="#111" stroke-width="2.2" />
<text x="1409.03" y="662.8" font-size="21.8" font-weight="normal" text-anchor="middle" fill="#000" >-0.1</text>
<line x1="1473.1" y1="618" x2="1473.1" y2="636" stroke="#111" stroke-width="2.2" />
<text x="1473.3" y="662.8" font-size="21.8" font-weight="normal" text-anchor="middle" fill="#000" >0.0</text>
<line x1="1537.37" y1="618" x2="1537.37" y2="636" stroke="#111" stroke-width="2.2" />
<text x="1537.57" y="662.8" font-size="21.8" font-weight="normal" text-anchor="middle" fill="#000" >0.1</text>
<line x1="1601.63" y1="618" x2="1601.63" y2="636" stroke="#111" stroke-width="2.2" />
<text x="1601.83" y="662.8" font-size="21.8" font-weight="normal" text-anchor="middle" fill="#000" >0.2</text>
<line x1="1665.9" y1="618" x2="1665.9" y2="636" stroke="#111" stroke-width="2.2" />
<text x="1657.6" y="662.8" font-size="21.8" font-weight="normal" text-anchor="middle" fill="#000" >0.3</text>
<text x="1543.5" y="686.3" font-size="22.4" font-weight="normal" text-anchor="middle" fill="#000" >Momentum (π/a)</text>
<rect x="1376.7" y="368.9" width="289.2" height="249.1" fill="none" stroke="#111" stroke-width="2.5"/>
<text x="1659.7" y="611.9" font-size="31" font-weight="bold" text-anchor="end" fill="#000" >13 K</text>
<line x1="1463.5" y1="389.5" x2="1482.43" y2="407.03" stroke="#ee1c24" stroke-width="2.3"/>
<polygon points="1490.5,414.5 1475.13,410.49 1482.43,407.03 1485.32,399.49" fill="#ee1c24"/>
<text x="1452.5" y="392.5" font-size="25" font-weight="bold" font-style="italic" text-anchor="middle" fill="#ee1c24">α</text>
<line x1="1559.5" y1="522.7" x2="1533" y2="530.94" stroke="#ee1c24" stroke-width="2.3"/>
<polygon points="1522.5,534.2 1533.64,522.88 1533,530.94 1538.1,537.21" fill="#ee1c24"/>
<text x="1572.5" y="530" font-size="25" font-weight="bold" font-style="italic" text-anchor="middle" fill="#ee1c24">β</text>
<line x1="1494.3" y1="588.5" x2="1499.12" y2="571.96" stroke="#ee1c24" stroke-width="2.3"/>
<polygon points="1502.2,561.4 1505.48,576.94 1499.12,571.96 1491.08,572.74" fill="#ee1c24"/>
<text x="1491" y="608" font-size="25" font-weight="bold" font-style="italic" text-anchor="middle" fill="#ee1c24">γ</text>
<g clip-path="url(#dc1702)"><g filter="url(#cmap)">
<rect x="1692.6" y="358.9" width="309.2" height="269.1" fill="#fff"/>
<rect x="1702.6" y="386" width="289.2" height="240" fill="#000" opacity="0.03"/>
<path d="M1737.6,394 L1852.6,394 L1902.6,625 L1697.6,625 Z" fill="#000" opacity="0.18" filter="url(#fb20)"/>
<path d="M1752.6,400 L1834.6,400 L1890.6,625 L1707.6,625 Z" fill="#000" opacity="0.12" filter="url(#fb16)"/>
<path d="M1709.8,622 C1712.77,606.67 1722.8,557 1727.6,530 C1732.4,503 1735.77,477.5 1738.6,460 C1741.43,442.5 1742.17,433.67 1744.6,425 C1747.03,416.33 1750.2,409.17 1753.2,408 C1756.2,406.83 1758.7,411.67 1762.6,418 C1766.5,424.33 1771.23,436 1776.6,446 C1781.97,456 1791.77,472.67 1794.8,478" fill="none" stroke="#000" stroke-width="17" stroke-linecap="round" stroke-linejoin="round" opacity="0.35" filter="url(#fb12)"/>
<path d="M1886.9,622 C1882.68,603.67 1868.15,542.33 1861.6,512 C1855.05,481.67 1850.77,455.33 1847.6,440 C1844.43,424.67 1845.08,425.67 1842.6,420 C1840.12,414.33 1836.03,406.33 1832.7,406 C1829.37,405.67 1826.28,411.33 1822.6,418 C1818.92,424.67 1815.23,436 1810.6,446 C1805.97,456 1797.43,472.67 1794.8,478" fill="none" stroke="#000" stroke-width="17" stroke-linecap="round" stroke-linejoin="round" opacity="0.35" filter="url(#fb12)"/>
<path d="M1794.8,476 C1791.1,486.67 1780.97,515.67 1772.6,540 C1764.23,564.33 1749.27,608.33 1744.6,622" fill="none" stroke="#000" stroke-width="12" stroke-linecap="round" stroke-linejoin="round" opacity="0.14" filter="url(#fb10)"/>
<path d="M1802.6,495 C1807.27,505.83 1822.27,538.83 1830.6,560 C1838.93,581.17 1848.93,611.67 1852.6,622" fill="none" stroke="#000" stroke-width="9" stroke-linecap="round" stroke-linejoin="round" opacity="0.15" filter="url(#fb6)"/>
<path d="M1814.6,545 C1816.27,551.67 1821.93,572.17 1824.6,585 C1827.27,597.83 1829.6,615.83 1830.6,622" fill="none" stroke="#000" stroke-width="6" stroke-linecap="round" stroke-linejoin="round" opacity="0.12" filter="url(#fb5)"/>
<ellipse cx="1794.8" cy="470" rx="8" ry="12" fill="#000" opacity="0.15" filter="url(#fb10)"/>
<path d="M1761.2,626 C1761.2,587 1779.2,566 1791.2,566 C1803.2,566 1821.2,587 1821.2,626 Z" fill="#000" opacity="0.55" filter="url(#fb8)"/>
<ellipse cx="1791.2" cy="598" rx="10" ry="12" fill="#000" opacity="0.98" filter="url(#fb8)"/>
<rect x="1697.6" y="363.9" width="299.2" height="22.1" fill="#fff"/>
<rect x="1697.6" y="384" width="299.2" height="12" fill="url(#fTopFade)"/>
</g></g>
<g clip-path="url(#ic1702)"><g filter="url(#cmap)">
<rect x="1882.1" y="376.5" width="110.5" height="112.1" fill="#fff"/>
<rect x="1884.1" y="382.5" width="106.5" height="104.1" fill="url(#ig1702)"/>
<path d="M1878.1,382.5 L1886.1,382.5 L1890.1,492.6 L1878.1,492.6 Z" fill="#000" opacity="0.4" filter="url(#fb4)"/>
<path d="M1878.1,451.6 L1886.5,461.6 L1889.5,492.6 L1878.1,492.6 Z" fill="#000" opacity="0.3" filter="url(#fb8)"/>
<path d="M1924.1,390.5 C1927.1,394.17 1936.77,405.5 1942.1,412.5 C1947.43,419.5 1953.77,429.17 1956.1,432.5" fill="none" stroke="#000" stroke-width="9" stroke-linecap="round" opacity="0.14" filter="url(#fb6)"/>
<path d="M1946.1,424.5 C1949.93,428.5 1962.1,441.5 1969.1,448.5 C1976.1,455.5 1984.93,463.5 1988.1,466.5" fill="none" stroke="#000" stroke-width="9" stroke-linecap="round" opacity="0.16" filter="url(#fb6)"/>
<path d="M1904.1,422.5 C1906.6,424.17 1914.1,430.83 1919.1,432.5 C1924.1,434.17 1931.6,432.5 1934.1,432.5" fill="none" stroke="#000" stroke-width="10" stroke-linecap="round" opacity="0.1" filter="url(#fb6)"/>
<rect x="1884.1" y="382.5" width="106.5" height="104.1" filter="url(#noiseInk)" opacity="0.18"/>
<rect x="1882.1" y="376.5" width="110.5" height="14" fill="url(#fTopFade)"/>
</g></g>
<line x1="1686.1" y1="389.2" x2="1702.6" y2="389.2" stroke="#111" stroke-width="2.2" />
<line x1="1686.1" y1="424.95" x2="1702.6" y2="424.95" stroke="#111" stroke-width="2.2" />
<line x1="1686.1" y1="460.7" x2="1702.6" y2="460.7" stroke="#111" stroke-width="2.2" />
<line x1="1686.1" y1="496.45" x2="1702.6" y2="496.45" stroke="#111" stroke-width="2.2" />
<line x1="1686.1" y1="532.2" x2="1702.6" y2="532.2" stroke="#111" stroke-width="2.2" />
<line x1="1686.1" y1="567.95" x2="1702.6" y2="567.95" stroke="#111" stroke-width="2.2" />
<line x1="1686.1" y1="603.7" x2="1702.6" y2="603.7" stroke="#111" stroke-width="2.2" />
<line x1="1734.73" y1="618" x2="1734.73" y2="636" stroke="#111" stroke-width="2.2" />
<text x="1734.93" y="662.8" font-size="21.8" font-weight="normal" text-anchor="middle" fill="#000" >-0.1</text>
<line x1="1799" y1="618" x2="1799" y2="636" stroke="#111" stroke-width="2.2" />
<text x="1799.2" y="662.8" font-size="21.8" font-weight="normal" text-anchor="middle" fill="#000" >0.0</text>
<line x1="1863.27" y1="618" x2="1863.27" y2="636" stroke="#111" stroke-width="2.2" />
<text x="1863.47" y="662.8" font-size="21.8" font-weight="normal" text-anchor="middle" fill="#000" >0.1</text>
<line x1="1927.53" y1="618" x2="1927.53" y2="636" stroke="#111" stroke-width="2.2" />
<text x="1927.73" y="662.8" font-size="21.8" font-weight="normal" text-anchor="middle" fill="#000" >0.2</text>
<line x1="1991.8" y1="618" x2="1991.8" y2="636" stroke="#111" stroke-width="2.2" />
<text x="1983.5" y="662.8" font-size="21.8" font-weight="normal" text-anchor="middle" fill="#000" >0.3</text>
<text x="1869.4" y="686.3" font-size="22.4" font-weight="normal" text-anchor="middle" fill="#000" >Momentum (π/a)</text>
<rect x="1702.6" y="368.9" width="289.2" height="249.1" fill="none" stroke="#111" stroke-width="2.5"/>
<text x="1983" y="611.9" font-size="31" font-weight="bold" text-anchor="end" fill="#000" >6 K</text>
<line x1="1785.7" y1="387.9" x2="1803.39" y2="406.36" stroke="#ee1c24" stroke-width="2.3"/>
<polygon points="1811,414.3 1795.9,409.38 1803.39,406.36 1806.73,399" fill="#ee1c24"/>
<text x="1773" y="392.5" font-size="25" font-weight="bold" font-style="italic" text-anchor="middle" fill="#ee1c24">α</text>
<line x1="1879.7" y1="522.7" x2="1854.14" y2="530.35" stroke="#ee1c24" stroke-width="2.3"/>
<polygon points="1843.6,533.5 1854.86,522.3 1854.14,530.35 1859.16,536.67" fill="#ee1c24"/>
<text x="1896" y="531" font-size="25" font-weight="bold" font-style="italic" text-anchor="middle" fill="#ee1c24">β’</text>
<line x1="1814" y1="588.5" x2="1819.99" y2="571.76" stroke="#ee1c24" stroke-width="2.3"/>
<polygon points="1823.7,561.4 1826.04,577.11 1819.99,571.76 1811.92,572.05" fill="#ee1c24"/>
<text x="1815" y="608" font-size="25" font-weight="bold" font-style="italic" text-anchor="middle" fill="#ee1c24">γ’</text>
<text x="13.2" y="368.9" font-size="31" font-weight="bold" text-anchor="middle" fill="#000" >f</text>
<text x="219.5" y="355.2" font-size="31" font-weight="bold" text-anchor="middle" fill="#000" >PM</text>
<text x="717.8" y="355.2" font-size="31" font-weight="bold" text-anchor="middle" fill="#000" >AFM1A</text>
<text x="1359.2" y="355.2" font-size="31" font-weight="bold" text-anchor="middle" fill="#000" >AFM1B</text>
<text x="1841.5" y="355" font-size="31" font-weight="bold" text-anchor="middle" fill="#000" >AFM2</text>
<text x="0" y="0" font-size="22.5" text-anchor="middle" transform="translate(20.3,496) rotate(-90)">Binding energy (eV)</text>
<text x="62.5" y="396.8" font-size="21.8" font-weight="normal" text-anchor="end" fill="#000" >0.0</text>
<text x="62.5" y="468.3" font-size="21.8" font-weight="normal" text-anchor="end" fill="#000" >0.1</text>
<text x="62.5" y="539.8" font-size="21.8" font-weight="normal" text-anchor="end" fill="#000" >0.2</text>
<text x="62.5" y="611.3" font-size="21.8" font-weight="normal" text-anchor="end" fill="#000" >0.3</text>
<line x1="384.4" y1="336.1" x2="384.4" y2="700" stroke="#808080" stroke-width="4.3" stroke-dasharray="10.7,9.4"/>
<line x1="1033.8" y1="336.1" x2="1033.8" y2="700" stroke="#808080" stroke-width="4.3" stroke-dasharray="10.7,9.4"/>
<line x1="1680.5" y1="336.1" x2="1680.5" y2="700" stroke="#808080" stroke-width="4.3" stroke-dasharray="10.7,9.4"/>
</svg>
</body></html>
